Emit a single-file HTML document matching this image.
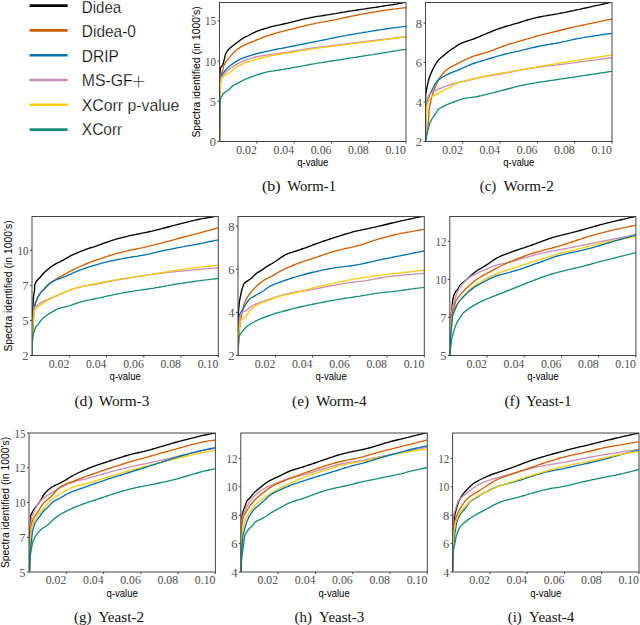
<!DOCTYPE html><html><head><meta charset="utf-8"><style>html,body{margin:0;padding:0;background:#fff;width:640px;height:625px;overflow:hidden}svg{display:block}</style></head><body>
<svg width="640" height="625" viewBox="0 0 640 625">
<rect width="640" height="625" fill="#fff"/>
<line x1="133" y1="81.5" x2="144.3" y2="81.5" stroke="#666" stroke-width="1"/><line x1="138.6" y1="75.8" x2="138.6" y2="87.3" stroke="#666" stroke-width="1"/>
<line x1="29.6" y1="5.6" x2="67.6" y2="5.6" stroke="#000000" stroke-width="2.6"/>
<text x="81.8" y="12.5" font-family="Liberation Sans" font-size="17" fill="#000" stroke="#fff" stroke-width="0.25" textLength="39.4" lengthAdjust="spacingAndGlyphs">Didea</text>
<line x1="29.6" y1="30.4" x2="67.6" y2="30.4" stroke="#d55e00" stroke-width="2.6"/>
<text x="81.8" y="36.9" font-family="Liberation Sans" font-size="17" fill="#000" stroke="#fff" stroke-width="0.25" textLength="54.1" lengthAdjust="spacingAndGlyphs">Didea-0</text>
<line x1="29.6" y1="55.2" x2="67.6" y2="55.2" stroke="#0072b2" stroke-width="2.6"/>
<text x="81.8" y="61.6" font-family="Liberation Sans" font-size="17" fill="#000" stroke="#fff" stroke-width="0.25" textLength="37.1" lengthAdjust="spacingAndGlyphs">DRIP</text>
<line x1="29.6" y1="80.0" x2="67.6" y2="80.0" stroke="#c98db3" stroke-width="2.6"/>
<text x="81.8" y="86.2" font-family="Liberation Sans" font-size="17" fill="#000" stroke="#fff" stroke-width="0.25" textLength="51.0" lengthAdjust="spacingAndGlyphs">MS-GF</text>
<line x1="29.6" y1="104.8" x2="67.6" y2="104.8" stroke="#f8cc0a" stroke-width="2.6"/>
<text x="81.8" y="110.8" font-family="Liberation Sans" font-size="17" fill="#000" stroke="#fff" stroke-width="0.25" textLength="97.5" lengthAdjust="spacingAndGlyphs">XCorr p-value</text>
<line x1="29.6" y1="129.6" x2="67.6" y2="129.6" stroke="#13907a" stroke-width="2.6"/>
<text x="81.8" y="135.4" font-family="Liberation Sans" font-size="17" fill="#000" stroke="#fff" stroke-width="0.25" textLength="40.5" lengthAdjust="spacingAndGlyphs">XCorr</text>
<clipPath id="clb"><rect x="219.5" y="2.5" width="186.5" height="139.0"/></clipPath>
<polyline clip-path="url(#clb)" points="219.5,141.4 219.6,76.0 219.8,76.0 220.4,68.0 222.8,64.8 223.5,62.4 225.5,54.1 227.5,50.5 229.5,48.5 231.5,46.8 233.5,45.2 235.5,43.7 237.5,42.2 239.5,40.7 241.5,39.2 243.5,37.9 245.5,36.9 247.5,36.0 249.5,35.0 251.5,33.9 253.5,32.8 255.5,31.9 257.5,31.0 259.5,30.3 261.5,29.6 263.5,29.0 265.5,28.3 267.5,27.8 269.5,27.2 271.5,26.6 273.5,26.2 275.5,25.7 277.5,25.3 279.5,24.9 281.5,24.4 283.5,24.0 285.5,23.5 287.5,23.1 289.5,22.6 291.5,22.1 293.5,21.6 295.5,21.1 297.5,20.6 299.5,20.1 301.5,19.6 303.5,19.2 305.5,18.7 307.5,18.3 309.5,17.9 311.5,17.5 313.5,17.1 315.5,16.7 317.5,16.4 319.5,16.1 321.5,15.8 323.5,15.5 325.5,15.2 327.5,14.9 329.5,14.6 331.5,14.2 333.5,13.9 335.5,13.6 337.5,13.2 339.5,12.9 341.5,12.5 343.5,12.2 345.5,11.8 347.5,11.5 349.5,11.2 351.5,10.9 353.5,10.6 355.5,10.3 357.5,10.0 359.5,9.7 361.5,9.4 363.5,9.1 365.5,8.8 367.5,8.5 369.5,8.2 371.5,7.9 373.5,7.6 375.5,7.3 377.5,7.0 379.5,6.7 381.5,6.4 383.5,6.0 385.5,5.7 387.5,5.4 389.5,5.1 391.5,4.8 393.5,4.5 395.5,4.1 397.5,3.8 399.5,3.4 401.5,3.1 403.5,2.7 405.5,2.3 406.0,2.2" fill="none" stroke="#000000" stroke-width="1.35" stroke-linejoin="round"/>
<polyline clip-path="url(#clb)" points="219.5,141.4 219.9,90.0 220.4,77.6 221.6,73.6 222.8,70.4 223.5,66.7 225.5,62.3 227.5,59.9 229.5,57.4 231.5,55.1 233.5,52.7 235.5,50.8 237.5,49.3 239.5,47.9 241.5,46.7 243.5,45.7 245.5,44.7 247.5,43.7 249.5,42.8 251.5,42.0 253.5,41.3 255.5,40.5 257.5,39.7 259.5,38.9 261.5,38.0 263.5,37.2 265.5,36.5 267.5,35.8 269.5,35.1 271.5,34.5 273.5,33.9 275.5,33.3 277.5,32.7 279.5,32.2 281.5,31.7 283.5,31.1 285.5,30.6 287.5,30.1 289.5,29.6 291.5,29.1 293.5,28.6 295.5,28.1 297.5,27.6 299.5,27.1 301.5,26.6 303.5,26.1 305.5,25.6 307.5,25.1 309.5,24.7 311.5,24.2 313.5,23.8 315.5,23.3 317.5,22.9 319.5,22.6 321.5,22.2 323.5,21.9 325.5,21.5 327.5,21.2 329.5,20.8 331.5,20.5 333.5,20.1 335.5,19.7 337.5,19.2 339.5,18.8 341.5,18.3 343.5,17.9 345.5,17.5 347.5,17.0 349.5,16.6 351.5,16.2 353.5,15.8 355.5,15.4 357.5,15.0 359.5,14.6 361.5,14.2 363.5,13.8 365.5,13.5 367.5,13.1 369.5,12.7 371.5,12.4 373.5,12.1 375.5,11.8 377.5,11.5 379.5,11.1 381.5,10.8 383.5,10.5 385.5,10.2 387.5,10.0 389.5,9.7 391.5,9.4 393.5,9.1 395.5,8.9 397.5,8.6 399.5,8.4 401.5,8.1 403.5,7.9 405.5,7.7 406.0,7.6" fill="none" stroke="#d55e00" stroke-width="1.35" stroke-linejoin="round"/>
<polyline clip-path="url(#clb)" points="219.5,141.4 219.9,90.0 220.5,77.0 221.2,75.9 221.2,75.9 222.8,73.6 223.5,72.7 225.5,70.1 227.5,68.1 229.5,66.3 231.5,64.7 233.5,63.3 235.5,61.9 237.5,60.7 239.5,59.7 241.5,58.7 243.5,57.9 245.5,57.2 247.5,56.5 249.5,55.8 251.5,55.2 253.5,54.6 255.5,54.0 257.5,53.4 259.5,53.0 261.5,52.5 263.5,52.1 265.5,51.7 267.5,51.2 269.5,50.8 271.5,50.3 273.5,49.9 275.5,49.5 277.5,49.1 279.5,48.7 281.5,48.4 283.5,48.0 285.5,47.6 287.5,47.2 289.5,46.8 291.5,46.4 293.5,46.0 295.5,45.6 297.5,45.2 299.5,44.8 301.5,44.4 303.5,44.0 305.5,43.6 307.5,43.2 309.5,42.8 311.5,42.4 313.5,42.0 315.5,41.6 317.5,41.2 319.5,40.8 321.5,40.4 323.5,40.0 325.5,39.6 327.5,39.2 329.5,38.7 331.5,38.3 333.5,37.9 335.5,37.5 337.5,37.1 339.5,36.7 341.5,36.3 343.5,35.9 345.5,35.6 347.5,35.2 349.5,34.8 351.5,34.5 353.5,34.1 355.5,33.8 357.5,33.4 359.5,33.1 361.5,32.8 363.5,32.4 365.5,32.1 367.5,31.8 369.5,31.4 371.5,31.1 373.5,30.8 375.5,30.5 377.5,30.2 379.5,29.9 381.5,29.6 383.5,29.3 385.5,29.0 387.5,28.7 389.5,28.5 391.5,28.2 393.5,27.9 395.5,27.7 397.5,27.4 399.5,27.1 401.5,26.9 403.5,26.6 405.5,26.3 406.0,26.3" fill="none" stroke="#0072b2" stroke-width="1.35" stroke-linejoin="round"/>
<polyline clip-path="url(#clb)" points="219.5,141.4 219.9,92.0 220.5,80.0 221.2,77.1 222.0,77.1 223.5,74.9 225.5,72.5 227.5,70.6 229.5,69.1 231.5,67.8 233.5,66.5 235.5,65.1 237.5,63.9 239.5,62.9 241.5,61.9 243.5,61.0 245.5,60.2 247.5,59.4 249.5,58.8 251.5,58.1 253.5,57.6 255.5,57.0 257.5,56.6 259.5,56.2 261.5,55.8 263.5,55.5 265.5,55.2 267.5,54.9 269.5,54.6 271.5,54.3 273.5,54.1 275.5,53.8 277.5,53.6 279.5,53.3 281.5,53.0 283.5,52.8 285.5,52.5 287.5,52.1 289.5,51.8 291.5,51.5 293.5,51.1 295.5,50.8 297.5,50.5 299.5,50.1 301.5,49.8 303.5,49.5 305.5,49.1 307.5,48.8 309.5,48.5 311.5,48.2 313.5,47.9 315.5,47.6 317.5,47.4 319.5,47.1 321.5,46.8 323.5,46.6 325.5,46.3 327.5,46.1 329.5,45.8 331.5,45.6 333.5,45.3 335.5,45.1 337.5,44.8 339.5,44.6 341.5,44.3 343.5,44.1 345.5,43.8 347.5,43.6 349.5,43.3 351.5,43.1 353.5,42.9 355.5,42.6 357.5,42.4 359.5,42.2 361.5,41.9 363.5,41.7 365.5,41.4 367.5,41.2 369.5,41.0 371.5,40.7 373.5,40.5 375.5,40.3 377.5,40.0 379.5,39.8 381.5,39.5 383.5,39.3 385.5,39.1 387.5,38.8 389.5,38.6 391.5,38.4 393.5,38.1 395.5,37.9 397.5,37.6 399.5,37.4 401.5,37.2 403.5,36.9 405.5,36.7 406.0,36.6" fill="none" stroke="#c98db3" stroke-width="1.35" stroke-linejoin="round"/>
<polyline clip-path="url(#clb)" points="219.5,141.4 219.9,95.0 220.0,90.0 220.8,83.2 222.0,78.4 223.5,76.4 225.5,74.8 227.5,74.0 229.5,72.8 231.5,71.2 233.5,69.4 235.5,67.8 237.5,66.5 239.5,65.3 241.5,64.3 243.5,63.4 245.5,62.6 247.5,62.0 249.5,61.4 251.5,60.8 253.5,60.2 255.5,59.6 257.5,59.0 259.5,58.5 261.5,58.0 263.5,57.5 265.5,57.0 267.5,56.6 269.5,56.1 271.5,55.7 273.5,55.3 275.5,55.0 277.5,54.6 279.5,54.3 281.5,54.0 283.5,53.6 285.5,53.3 287.5,53.0 289.5,52.6 291.5,52.3 293.5,52.0 295.5,51.6 297.5,51.3 299.5,50.9 301.5,50.6 303.5,50.3 305.5,50.0 307.5,49.6 309.5,49.3 311.5,49.0 313.5,48.7 315.5,48.4 317.5,48.2 319.5,47.9 321.5,47.6 323.5,47.4 325.5,47.1 327.5,46.9 329.5,46.6 331.5,46.4 333.5,46.1 335.5,45.9 337.5,45.6 339.5,45.4 341.5,45.1 343.5,44.9 345.5,44.6 347.5,44.4 349.5,44.1 351.5,43.9 353.5,43.6 355.5,43.4 357.5,43.1 359.5,42.9 361.5,42.6 363.5,42.4 365.5,42.1 367.5,41.9 369.5,41.6 371.5,41.4 373.5,41.1 375.5,40.9 377.5,40.6 379.5,40.3 381.5,40.1 383.5,39.8 385.5,39.6 387.5,39.3 389.5,39.0 391.5,38.8 393.5,38.5 395.5,38.2 397.5,38.0 399.5,37.7 401.5,37.4 403.5,37.2 405.5,36.9 406.0,36.8" fill="none" stroke="#f8cc0a" stroke-width="1.35" stroke-linejoin="round"/>
<polyline clip-path="url(#clb)" points="219.4,141.4 219.9,114.4 220.1,100.8 220.8,98.1 222.2,95.6 223.5,93.4 225.5,92.0 227.5,90.7 229.5,89.3 231.5,86.9 233.5,85.5 235.5,84.4 237.5,83.3 239.5,82.1 241.5,81.1 243.5,80.1 245.5,79.2 247.5,78.4 249.5,77.6 251.5,76.8 253.5,76.1 255.5,75.4 257.5,74.6 259.5,74.0 261.5,73.4 263.5,72.8 265.5,72.3 267.5,71.8 269.5,71.4 271.5,71.1 273.5,70.8 275.5,70.5 277.5,70.3 279.5,70.0 281.5,69.7 283.5,69.4 285.5,69.0 287.5,68.7 289.5,68.3 291.5,67.9 293.5,67.5 295.5,67.2 297.5,66.8 299.5,66.4 301.5,66.1 303.5,65.7 305.5,65.3 307.5,65.0 309.5,64.6 311.5,64.2 313.5,63.9 315.5,63.6 317.5,63.2 319.5,62.9 321.5,62.6 323.5,62.3 325.5,62.0 327.5,61.6 329.5,61.3 331.5,61.0 333.5,60.7 335.5,60.4 337.5,60.1 339.5,59.8 341.5,59.5 343.5,59.1 345.5,58.8 347.5,58.5 349.5,58.2 351.5,57.9 353.5,57.6 355.5,57.3 357.5,57.0 359.5,56.6 361.5,56.3 363.5,56.0 365.5,55.7 367.5,55.4 369.5,55.1 371.5,54.8 373.5,54.4 375.5,54.1 377.5,53.8 379.5,53.5 381.5,53.2 383.5,52.8 385.5,52.5 387.5,52.2 389.5,51.9 391.5,51.5 393.5,51.2 395.5,50.9 397.5,50.6 399.5,50.2 401.5,49.9 403.5,49.6 405.5,49.3 406.0,49.2" fill="none" stroke="#13907a" stroke-width="1.35" stroke-linejoin="round"/>
<rect x="219.5" y="2.5" width="186.5" height="139.0" fill="none" stroke="#444" stroke-width="1"/>
<line x1="217.5" y1="141.5" x2="219.5" y2="141.5" stroke="#444" stroke-width="1"/>
<text x="216.1" y="146.0" text-anchor="end" font-family="Liberation Serif" font-size="12.5" fill="#111" stroke="#fff" stroke-width="0.2">0</text>
<line x1="217.5" y1="101.27" x2="219.5" y2="101.27" stroke="#444" stroke-width="1"/>
<text x="216.1" y="105.77" text-anchor="end" font-family="Liberation Serif" font-size="12.5" fill="#111" stroke="#fff" stroke-width="0.2">5</text>
<line x1="217.5" y1="61.03" x2="219.5" y2="61.03" stroke="#444" stroke-width="1"/>
<text x="216.1" y="65.53" text-anchor="end" font-family="Liberation Serif" font-size="12.5" fill="#111" stroke="#fff" stroke-width="0.2" textLength="11" lengthAdjust="spacingAndGlyphs">10</text>
<line x1="217.5" y1="20.8" x2="219.5" y2="20.8" stroke="#444" stroke-width="1"/>
<text x="216.1" y="25.3" text-anchor="end" font-family="Liberation Serif" font-size="12.5" fill="#111" stroke="#fff" stroke-width="0.2" textLength="11" lengthAdjust="spacingAndGlyphs">15</text>
<line x1="256.8" y1="141.5" x2="256.8" y2="143.5" stroke="#444" stroke-width="1"/>
<text x="256.8" y="153.6" text-anchor="end" font-family="Liberation Serif" font-size="12.5" fill="#111" stroke="#fff" stroke-width="0.2" textLength="20.6" lengthAdjust="spacingAndGlyphs">0.02</text>
<line x1="294.1" y1="141.5" x2="294.1" y2="143.5" stroke="#444" stroke-width="1"/>
<text x="294.1" y="153.6" text-anchor="end" font-family="Liberation Serif" font-size="12.5" fill="#111" stroke="#fff" stroke-width="0.2" textLength="20.6" lengthAdjust="spacingAndGlyphs">0.04</text>
<line x1="331.4" y1="141.5" x2="331.4" y2="143.5" stroke="#444" stroke-width="1"/>
<text x="331.4" y="153.6" text-anchor="end" font-family="Liberation Serif" font-size="12.5" fill="#111" stroke="#fff" stroke-width="0.2" textLength="20.6" lengthAdjust="spacingAndGlyphs">0.06</text>
<line x1="368.7" y1="141.5" x2="368.7" y2="143.5" stroke="#444" stroke-width="1"/>
<text x="368.7" y="153.6" text-anchor="end" font-family="Liberation Serif" font-size="12.5" fill="#111" stroke="#fff" stroke-width="0.2" textLength="20.6" lengthAdjust="spacingAndGlyphs">0.08</text>
<line x1="406.0" y1="141.5" x2="406.0" y2="143.5" stroke="#444" stroke-width="1"/>
<text x="406.0" y="153.6" text-anchor="end" font-family="Liberation Serif" font-size="12.5" fill="#111" stroke="#fff" stroke-width="0.2" textLength="20.6" lengthAdjust="spacingAndGlyphs">0.10</text>
<text x="312.8" y="166.0" text-anchor="middle" font-family="Liberation Sans" font-size="10" fill="#000" textLength="31.2" lengthAdjust="spacingAndGlyphs">q-value</text>
<text transform="translate(199.9,72.0) rotate(-90)" text-anchor="middle" font-family="Liberation Sans" font-size="10" fill="#000" textLength="131.2" lengthAdjust="spacingAndGlyphs">Spectra identified (in 1000's)</text>
<text x="262.0" y="190.8" font-family="Liberation Serif" font-size="15" fill="#111" textLength="18.6" lengthAdjust="spacingAndGlyphs">(b)</text>
<text x="287.3" y="190.8" font-family="Liberation Serif" font-size="15" fill="#111" textLength="48.7" lengthAdjust="spacingAndGlyphs">Worm-1</text>
<clipPath id="clc"><rect x="425.5" y="2.5" width="186.5" height="139.0"/></clipPath>
<polyline clip-path="url(#clc)" points="425.3,140.8 425.7,94.0 425.8,94.0 426.8,88.2 428.5,80.3 429.5,77.3 431.5,72.1 433.5,68.0 435.5,64.3 437.5,61.2 439.5,58.9 441.5,57.2 443.5,55.6 445.5,54.0 447.5,52.3 449.5,50.7 451.5,49.3 453.5,48.1 455.5,46.7 457.5,45.4 459.5,44.2 461.5,43.2 463.5,42.4 465.5,41.7 467.5,41.0 469.5,40.4 471.5,39.7 473.5,39.0 475.5,38.2 477.5,37.4 479.5,36.6 481.5,35.7 483.5,34.9 485.5,34.0 487.5,33.1 489.5,32.3 491.5,31.5 493.5,30.7 495.5,29.9 497.5,29.2 499.5,28.5 501.5,27.8 503.5,27.1 505.5,26.5 507.5,25.9 509.5,25.4 511.5,24.8 513.5,24.2 515.5,23.6 517.5,23.1 519.5,22.5 521.5,21.8 523.5,21.2 525.5,20.6 527.5,20.0 529.5,19.4 531.5,18.9 533.5,18.4 535.5,17.9 537.5,17.4 539.5,17.0 541.5,16.6 543.5,16.2 545.5,15.9 547.5,15.5 549.5,15.1 551.5,14.8 553.5,14.5 555.5,14.1 557.5,13.8 559.5,13.4 561.5,13.0 563.5,12.7 565.5,12.3 567.5,11.8 569.5,11.4 571.5,11.0 573.5,10.6 575.5,10.1 577.5,9.7 579.5,9.3 581.5,8.8 583.5,8.4 585.5,8.0 587.5,7.5 589.5,7.1 591.5,6.6 593.5,6.2 595.5,5.7 597.5,5.3 599.5,4.9 601.5,4.4 603.5,4.0 605.5,3.6 607.5,3.1 609.5,2.7 611.5,2.2 612.0,2.1" fill="none" stroke="#000000" stroke-width="1.35" stroke-linejoin="round"/>
<polyline clip-path="url(#clc)" points="425.3,140.8 425.8,137.9 427.7,128.3 428.7,118.7 429.0,110.0 429.5,107.0 431.5,97.9 433.5,91.5 435.5,86.7 437.5,81.9 439.5,78.1 441.5,75.4 443.5,73.0 445.5,70.8 447.5,69.2 449.5,67.9 451.5,66.7 453.5,65.6 455.5,64.6 457.5,63.6 459.5,62.6 461.5,61.6 463.5,60.6 465.5,59.6 467.5,58.7 469.5,57.8 471.5,57.0 473.5,56.2 475.5,55.6 477.5,55.0 479.5,54.5 481.5,53.9 483.5,53.3 485.5,52.7 487.5,52.1 489.5,51.4 491.5,50.7 493.5,50.0 495.5,49.2 497.5,48.4 499.5,47.6 501.5,46.8 503.5,46.0 505.5,45.3 507.5,44.7 509.5,44.0 511.5,43.4 513.5,42.9 515.5,42.3 517.5,41.7 519.5,41.2 521.5,40.6 523.5,40.0 525.5,39.4 527.5,38.9 529.5,38.3 531.5,37.7 533.5,37.1 535.5,36.5 537.5,35.9 539.5,35.4 541.5,34.8 543.5,34.3 545.5,33.8 547.5,33.3 549.5,32.9 551.5,32.4 553.5,32.0 555.5,31.5 557.5,31.0 559.5,30.5 561.5,30.0 563.5,29.5 565.5,29.0 567.5,28.5 569.5,28.0 571.5,27.5 573.5,27.1 575.5,26.6 577.5,26.2 579.5,25.8 581.5,25.4 583.5,25.0 585.5,24.6 587.5,24.1 589.5,23.7 591.5,23.3 593.5,22.9 595.5,22.5 597.5,22.1 599.5,21.6 601.5,21.2 603.5,20.8 605.5,20.4 607.5,19.9 609.5,19.5 611.5,19.1 612.0,19.0" fill="none" stroke="#d55e00" stroke-width="1.35" stroke-linejoin="round"/>
<polyline clip-path="url(#clc)" points="425.3,140.8 426.2,103.5 426.2,103.5 429.5,95.1 431.5,91.1 433.5,87.1 435.5,83.2 437.5,80.6 439.5,79.1 441.5,77.7 443.5,76.5 445.5,75.3 447.5,74.3 449.5,73.5 451.5,72.7 453.5,71.9 455.5,71.1 457.5,70.3 459.5,69.5 461.5,68.6 463.5,67.7 465.5,66.8 467.5,65.9 469.5,65.0 471.5,64.2 473.5,63.5 475.5,62.8 477.5,62.2 479.5,61.6 481.5,61.0 483.5,60.4 485.5,59.8 487.5,59.2 489.5,58.6 491.5,58.0 493.5,57.4 495.5,56.8 497.5,56.2 499.5,55.6 501.5,55.1 503.5,54.5 505.5,54.0 507.5,53.6 509.5,53.1 511.5,52.6 513.5,52.2 515.5,51.7 517.5,51.3 519.5,50.8 521.5,50.4 523.5,49.9 525.5,49.4 527.5,48.9 529.5,48.4 531.5,47.9 533.5,47.5 535.5,47.0 537.5,46.5 539.5,46.1 541.5,45.7 543.5,45.3 545.5,45.0 547.5,44.6 549.5,44.3 551.5,44.0 553.5,43.7 555.5,43.4 557.5,43.0 559.5,42.6 561.5,42.2 563.5,41.7 565.5,41.3 567.5,40.8 569.5,40.3 571.5,39.9 573.5,39.4 575.5,39.0 577.5,38.6 579.5,38.3 581.5,37.9 583.5,37.6 585.5,37.2 587.5,36.9 589.5,36.6 591.5,36.3 593.5,36.0 595.5,35.7 597.5,35.4 599.5,35.1 601.5,34.8 603.5,34.5 605.5,34.2 607.5,34.0 609.5,33.7 611.5,33.4 612.0,33.3" fill="none" stroke="#0072b2" stroke-width="1.35" stroke-linejoin="round"/>
<polyline clip-path="url(#clc)" points="425.3,140.8 425.8,109.0 426.2,99.3 427.2,99.3 429.5,94.0 431.5,92.5 433.5,91.3 435.5,90.3 437.5,89.4 439.5,88.6 441.5,87.9 443.5,87.1 445.5,86.3 447.5,85.6 449.5,85.0 451.5,84.4 453.5,83.8 455.5,83.2 457.5,82.7 459.5,82.2 461.5,81.8 463.5,81.4 465.5,81.0 467.5,80.5 469.5,80.0 471.5,79.5 473.5,79.0 475.5,78.5 477.5,78.1 479.5,77.7 481.5,77.3 483.5,76.9 485.5,76.5 487.5,76.2 489.5,75.9 491.5,75.6 493.5,75.2 495.5,74.9 497.5,74.6 499.5,74.2 501.5,73.8 503.5,73.4 505.5,73.1 507.5,72.7 509.5,72.3 511.5,71.9 513.5,71.5 515.5,71.1 517.5,70.7 519.5,70.3 521.5,69.9 523.5,69.6 525.5,69.2 527.5,68.9 529.5,68.5 531.5,68.2 533.5,67.9 535.5,67.6 537.5,67.3 539.5,67.0 541.5,66.7 543.5,66.5 545.5,66.2 547.5,66.0 549.5,65.7 551.5,65.5 553.5,65.3 555.5,65.1 557.5,64.8 559.5,64.6 561.5,64.4 563.5,64.2 565.5,63.9 567.5,63.7 569.5,63.4 571.5,63.2 573.5,62.9 575.5,62.6 577.5,62.3 579.5,62.0 581.5,61.7 583.5,61.4 585.5,61.1 587.5,60.9 589.5,60.6 591.5,60.3 593.5,60.1 595.5,59.8 597.5,59.6 599.5,59.3 601.5,59.0 603.5,58.8 605.5,58.5 607.5,58.3 609.5,58.0 611.5,57.8 612.0,57.7" fill="none" stroke="#c98db3" stroke-width="1.35" stroke-linejoin="round"/>
<polyline clip-path="url(#clc)" points="425.3,140.8 425.8,121.5 426.7,111.9 426.8,107.2 428.5,100.5 429.5,98.9 431.5,96.7 433.5,95.7 435.5,94.7 437.5,93.7 439.5,92.6 441.5,91.4 443.5,90.3 445.5,89.4 447.5,88.6 449.5,87.7 451.5,86.6 453.5,85.2 455.5,83.9 457.5,83.0 459.5,82.3 461.5,81.8 463.5,81.3 465.5,80.7 467.5,80.2 469.5,79.7 471.5,79.3 473.5,78.8 475.5,78.4 477.5,78.0 479.5,77.5 481.5,77.0 483.5,76.5 485.5,76.0 487.5,75.6 489.5,75.2 491.5,74.8 493.5,74.4 495.5,74.1 497.5,73.8 499.5,73.5 501.5,73.2 503.5,72.9 505.5,72.6 507.5,72.2 509.5,71.9 511.5,71.6 513.5,71.2 515.5,70.9 517.5,70.5 519.5,70.2 521.5,69.8 523.5,69.4 525.5,69.1 527.5,68.7 529.5,68.4 531.5,68.0 533.5,67.6 535.5,67.3 537.5,66.9 539.5,66.6 541.5,66.2 543.5,65.9 545.5,65.5 547.5,65.2 549.5,64.8 551.5,64.5 553.5,64.1 555.5,63.8 557.5,63.4 559.5,63.1 561.5,62.8 563.5,62.5 565.5,62.1 567.5,61.8 569.5,61.5 571.5,61.2 573.5,60.9 575.5,60.6 577.5,60.3 579.5,60.0 581.5,59.7 583.5,59.4 585.5,59.1 587.5,58.8 589.5,58.5 591.5,58.2 593.5,57.8 595.5,57.5 597.5,57.2 599.5,56.9 601.5,56.6 603.5,56.3 605.5,56.0 607.5,55.7 609.5,55.4 611.5,55.1 612.0,55.0" fill="none" stroke="#f8cc0a" stroke-width="1.35" stroke-linejoin="round"/>
<polyline clip-path="url(#clc)" points="424.8,140.8 425.8,140.8 427.7,131.2 429.5,123.9 431.5,119.7 433.5,116.5 435.5,113.9 437.5,110.5 439.5,108.5 441.5,107.3 443.5,106.3 445.5,105.3 447.5,104.4 449.5,103.6 451.5,102.8 453.5,102.0 455.5,101.3 457.5,100.6 459.5,99.9 461.5,99.3 463.5,98.7 465.5,98.3 467.5,97.9 469.5,97.7 471.5,97.4 473.5,97.1 475.5,96.8 477.5,96.5 479.5,96.0 481.5,95.6 483.5,95.1 485.5,94.6 487.5,94.1 489.5,93.6 491.5,93.1 493.5,92.6 495.5,92.1 497.5,91.6 499.5,91.1 501.5,90.6 503.5,90.0 505.5,89.5 507.5,89.0 509.5,88.5 511.5,88.0 513.5,87.4 515.5,86.9 517.5,86.4 519.5,85.9 521.5,85.4 523.5,85.0 525.5,84.6 527.5,84.2 529.5,83.8 531.5,83.5 533.5,83.2 535.5,82.8 537.5,82.5 539.5,82.2 541.5,81.9 543.5,81.6 545.5,81.3 547.5,81.0 549.5,80.7 551.5,80.4 553.5,80.1 555.5,79.8 557.5,79.5 559.5,79.2 561.5,78.9 563.5,78.6 565.5,78.3 567.5,78.0 569.5,77.7 571.5,77.4 573.5,77.1 575.5,76.8 577.5,76.5 579.5,76.2 581.5,75.9 583.5,75.6 585.5,75.3 587.5,75.0 589.5,74.7 591.5,74.4 593.5,74.1 595.5,73.8 597.5,73.5 599.5,73.2 601.5,72.9 603.5,72.6 605.5,72.3 607.5,72.0 609.5,71.7 611.5,71.4 612.0,71.3" fill="none" stroke="#13907a" stroke-width="1.35" stroke-linejoin="round"/>
<rect x="425.5" y="2.5" width="186.5" height="139.0" fill="none" stroke="#444" stroke-width="1"/>
<line x1="423.5" y1="141.5" x2="425.5" y2="141.5" stroke="#444" stroke-width="1"/>
<text x="422.1" y="146.0" text-anchor="end" font-family="Liberation Serif" font-size="12.5" fill="#111" stroke="#fff" stroke-width="0.2">2</text>
<line x1="423.5" y1="102.0" x2="425.5" y2="102.0" stroke="#444" stroke-width="1"/>
<text x="422.1" y="106.5" text-anchor="end" font-family="Liberation Serif" font-size="12.5" fill="#111" stroke="#fff" stroke-width="0.2">4</text>
<line x1="423.5" y1="62.5" x2="425.5" y2="62.5" stroke="#444" stroke-width="1"/>
<text x="422.1" y="67.0" text-anchor="end" font-family="Liberation Serif" font-size="12.5" fill="#111" stroke="#fff" stroke-width="0.2">6</text>
<line x1="423.5" y1="23.0" x2="425.5" y2="23.0" stroke="#444" stroke-width="1"/>
<text x="422.1" y="27.5" text-anchor="end" font-family="Liberation Serif" font-size="12.5" fill="#111" stroke="#fff" stroke-width="0.2">8</text>
<line x1="462.8" y1="141.5" x2="462.8" y2="143.5" stroke="#444" stroke-width="1"/>
<text x="462.8" y="153.6" text-anchor="end" font-family="Liberation Serif" font-size="12.5" fill="#111" stroke="#fff" stroke-width="0.2" textLength="20.6" lengthAdjust="spacingAndGlyphs">0.02</text>
<line x1="500.1" y1="141.5" x2="500.1" y2="143.5" stroke="#444" stroke-width="1"/>
<text x="500.1" y="153.6" text-anchor="end" font-family="Liberation Serif" font-size="12.5" fill="#111" stroke="#fff" stroke-width="0.2" textLength="20.6" lengthAdjust="spacingAndGlyphs">0.04</text>
<line x1="537.4" y1="141.5" x2="537.4" y2="143.5" stroke="#444" stroke-width="1"/>
<text x="537.4" y="153.6" text-anchor="end" font-family="Liberation Serif" font-size="12.5" fill="#111" stroke="#fff" stroke-width="0.2" textLength="20.6" lengthAdjust="spacingAndGlyphs">0.06</text>
<line x1="574.7" y1="141.5" x2="574.7" y2="143.5" stroke="#444" stroke-width="1"/>
<text x="574.7" y="153.6" text-anchor="end" font-family="Liberation Serif" font-size="12.5" fill="#111" stroke="#fff" stroke-width="0.2" textLength="20.6" lengthAdjust="spacingAndGlyphs">0.08</text>
<line x1="612.0" y1="141.5" x2="612.0" y2="143.5" stroke="#444" stroke-width="1"/>
<text x="612.0" y="153.6" text-anchor="end" font-family="Liberation Serif" font-size="12.5" fill="#111" stroke="#fff" stroke-width="0.2" textLength="20.6" lengthAdjust="spacingAndGlyphs">0.10</text>
<text x="518.8" y="166.0" text-anchor="middle" font-family="Liberation Sans" font-size="10" fill="#000" textLength="31.2" lengthAdjust="spacingAndGlyphs">q-value</text>
<text x="479.7" y="190.5" font-family="Liberation Serif" font-size="15" fill="#111" textLength="16.5" lengthAdjust="spacingAndGlyphs">(c)</text>
<text x="503.5" y="190.5" font-family="Liberation Serif" font-size="15" fill="#111" textLength="50.3" lengthAdjust="spacingAndGlyphs">Worm-2</text>
<clipPath id="cld"><rect x="32.0" y="216.5" width="186.3" height="139.0"/></clipPath>
<polyline clip-path="url(#cld)" points="31.6,354.8 31.8,354.8 32.7,318.0 32.9,306.8 33.5,296.7 34.6,290.0 34.6,285.4 36.0,281.7 38.0,279.5 40.0,277.5 42.0,275.0 44.0,272.8 46.0,271.0 48.0,269.3 50.0,267.6 52.0,266.1 54.0,264.9 56.0,263.7 58.0,262.7 60.0,261.8 62.0,260.7 64.0,259.6 66.0,258.4 68.0,257.3 70.0,256.2 72.0,255.2 74.0,254.2 76.0,253.3 78.0,252.5 80.0,251.6 82.0,250.8 84.0,250.1 86.0,249.4 88.0,248.7 90.0,248.0 92.0,247.4 94.0,246.8 96.0,246.1 98.0,245.4 100.0,244.7 102.0,244.0 104.0,243.2 106.0,242.5 108.0,241.8 110.0,241.1 112.0,240.4 114.0,239.8 116.0,239.2 118.0,238.6 120.0,238.1 122.0,237.6 124.0,237.1 126.0,236.6 128.0,236.2 130.0,235.7 132.0,235.2 134.0,234.8 136.0,234.4 138.0,234.0 140.0,233.6 142.0,233.2 144.0,232.8 146.0,232.4 148.0,232.0 150.0,231.5 152.0,231.1 154.0,230.6 156.0,230.1 158.0,229.6 160.0,229.1 162.0,228.6 164.0,228.0 166.0,227.5 168.0,227.0 170.0,226.5 172.0,225.9 174.0,225.4 176.0,224.9 178.0,224.3 180.0,223.8 182.0,223.3 184.0,222.8 186.0,222.3 188.0,221.8 190.0,221.3 192.0,220.8 194.0,220.4 196.0,219.9 198.0,219.5 200.0,219.1 202.0,218.7 204.0,218.3 206.0,218.0 208.0,217.6 210.0,217.3 212.0,217.0 214.0,216.7 216.0,216.4 218.0,216.1 218.0,216.1" fill="none" stroke="#000000" stroke-width="1.35" stroke-linejoin="round"/>
<polyline clip-path="url(#cld)" points="31.6,354.8 31.8,354.8 33.5,318.0 34.0,307.9 35.7,302.3 36.0,301.6 38.0,296.8 40.0,293.7 42.0,291.2 44.0,289.5 46.0,287.5 48.0,285.4 50.0,283.5 52.0,281.8 54.0,280.5 56.0,279.3 58.0,278.1 60.0,276.9 62.0,275.8 64.0,274.6 66.0,273.5 68.0,272.4 70.0,271.4 72.0,270.3 74.0,269.3 76.0,268.4 78.0,267.5 80.0,266.6 82.0,265.7 84.0,264.8 86.0,264.0 88.0,263.2 90.0,262.4 92.0,261.7 94.0,261.0 96.0,260.2 98.0,259.5 100.0,258.8 102.0,258.2 104.0,257.5 106.0,256.8 108.0,256.2 110.0,255.5 112.0,254.9 114.0,254.3 116.0,253.7 118.0,253.1 120.0,252.6 122.0,252.1 124.0,251.6 126.0,251.1 128.0,250.6 130.0,250.2 132.0,249.8 134.0,249.4 136.0,249.0 138.0,248.6 140.0,248.2 142.0,247.8 144.0,247.3 146.0,246.9 148.0,246.4 150.0,245.9 152.0,245.4 154.0,244.9 156.0,244.4 158.0,243.9 160.0,243.4 162.0,242.9 164.0,242.4 166.0,241.9 168.0,241.4 170.0,240.8 172.0,240.3 174.0,239.7 176.0,239.2 178.0,238.6 180.0,238.0 182.0,237.5 184.0,236.9 186.0,236.4 188.0,235.9 190.0,235.3 192.0,234.8 194.0,234.3 196.0,233.8 198.0,233.3 200.0,232.8 202.0,232.3 204.0,231.7 206.0,231.2 208.0,230.7 210.0,230.1 212.0,229.5 214.0,229.0 216.0,228.4 218.0,227.8 218.0,227.8" fill="none" stroke="#d55e00" stroke-width="1.35" stroke-linejoin="round"/>
<polyline clip-path="url(#cld)" points="31.6,354.8 31.8,354.8 33.5,318.0 34.0,307.9 35.7,302.3 36.0,301.6 38.0,296.8 40.0,293.7 42.0,291.2 44.0,289.2 46.0,286.6 48.0,284.8 50.0,283.2 52.0,281.9 54.0,280.8 56.0,279.9 58.0,279.2 60.0,278.5 62.0,277.8 64.0,276.9 66.0,276.1 68.0,275.2 70.0,274.3 72.0,273.4 74.0,272.6 76.0,271.7 78.0,270.9 80.0,270.1 82.0,269.4 84.0,268.6 86.0,267.9 88.0,267.2 90.0,266.6 92.0,266.0 94.0,265.4 96.0,264.8 98.0,264.3 100.0,263.7 102.0,263.2 104.0,262.7 106.0,262.2 108.0,261.7 110.0,261.2 112.0,260.8 114.0,260.4 116.0,259.9 118.0,259.5 120.0,259.1 122.0,258.8 124.0,258.4 126.0,258.0 128.0,257.7 130.0,257.4 132.0,257.0 134.0,256.7 136.0,256.4 138.0,256.1 140.0,255.7 142.0,255.4 144.0,255.0 146.0,254.7 148.0,254.2 150.0,253.8 152.0,253.3 154.0,252.8 156.0,252.3 158.0,251.9 160.0,251.4 162.0,250.9 164.0,250.5 166.0,250.1 168.0,249.7 170.0,249.3 172.0,248.9 174.0,248.5 176.0,248.1 178.0,247.7 180.0,247.3 182.0,246.9 184.0,246.6 186.0,246.2 188.0,245.9 190.0,245.5 192.0,245.2 194.0,244.8 196.0,244.4 198.0,244.0 200.0,243.6 202.0,243.2 204.0,242.8 206.0,242.3 208.0,241.9 210.0,241.5 212.0,241.1 214.0,240.7 216.0,240.3 218.0,240.0 218.0,240.0" fill="none" stroke="#0072b2" stroke-width="1.35" stroke-linejoin="round"/>
<polyline clip-path="url(#cld)" points="31.6,354.8 31.8,354.8 32.9,323.6 34.0,307.9 36.0,306.2 38.0,304.6 40.0,303.3 42.0,302.1 44.0,301.0 46.0,300.2 48.0,299.3 50.0,298.4 52.0,297.6 54.0,296.8 56.0,296.0 58.0,295.2 60.0,294.4 62.0,293.6 64.0,292.7 66.0,291.9 68.0,291.0 70.0,290.2 72.0,289.4 74.0,288.7 76.0,288.1 78.0,287.5 80.0,287.1 82.0,286.6 84.0,286.2 86.0,285.9 88.0,285.5 90.0,285.2 92.0,284.8 94.0,284.5 96.0,284.1 98.0,283.8 100.0,283.4 102.0,283.0 104.0,282.5 106.0,282.1 108.0,281.7 110.0,281.3 112.0,280.9 114.0,280.5 116.0,280.2 118.0,279.8 120.0,279.5 122.0,279.1 124.0,278.8 126.0,278.5 128.0,278.1 130.0,277.8 132.0,277.5 134.0,277.2 136.0,276.8 138.0,276.5 140.0,276.2 142.0,275.8 144.0,275.5 146.0,275.2 148.0,274.9 150.0,274.6 152.0,274.3 154.0,274.0 156.0,273.8 158.0,273.5 160.0,273.3 162.0,273.1 164.0,272.9 166.0,272.7 168.0,272.4 170.0,272.2 172.0,272.0 174.0,271.8 176.0,271.6 178.0,271.4 180.0,271.2 182.0,271.0 184.0,270.9 186.0,270.7 188.0,270.5 190.0,270.3 192.0,270.1 194.0,269.9 196.0,269.7 198.0,269.5 200.0,269.4 202.0,269.2 204.0,269.0 206.0,268.8 208.0,268.7 210.0,268.5 212.0,268.3 214.0,268.2 216.0,268.0 218.0,267.8 218.0,267.8" fill="none" stroke="#c98db3" stroke-width="1.35" stroke-linejoin="round"/>
<polyline clip-path="url(#cld)" points="31.6,354.8 31.8,354.8 32.4,334.8 32.9,323.6 34.0,311.3 35.7,309.0 36.0,308.8 38.0,307.0 40.0,305.3 42.0,303.9 44.0,302.5 46.0,301.2 48.0,300.1 50.0,299.1 52.0,298.1 54.0,297.1 56.0,296.1 58.0,295.1 60.0,294.1 62.0,293.2 64.0,292.3 66.0,291.5 68.0,290.7 70.0,290.0 72.0,289.4 74.0,288.7 76.0,288.1 78.0,287.6 80.0,287.1 82.0,286.6 84.0,286.1 86.0,285.7 88.0,285.3 90.0,284.8 92.0,284.4 94.0,284.0 96.0,283.6 98.0,283.2 100.0,282.8 102.0,282.4 104.0,282.0 106.0,281.6 108.0,281.2 110.0,280.8 112.0,280.4 114.0,280.1 116.0,279.7 118.0,279.4 120.0,279.0 122.0,278.7 124.0,278.4 126.0,278.1 128.0,277.9 130.0,277.6 132.0,277.3 134.0,277.0 136.0,276.8 138.0,276.5 140.0,276.2 142.0,275.9 144.0,275.6 146.0,275.3 148.0,274.9 150.0,274.6 152.0,274.3 154.0,273.9 156.0,273.6 158.0,273.3 160.0,272.9 162.0,272.6 164.0,272.3 166.0,271.9 168.0,271.6 170.0,271.2 172.0,270.9 174.0,270.6 176.0,270.3 178.0,270.0 180.0,269.7 182.0,269.4 184.0,269.1 186.0,268.9 188.0,268.6 190.0,268.4 192.0,268.1 194.0,267.9 196.0,267.6 198.0,267.4 200.0,267.2 202.0,266.9 204.0,266.7 206.0,266.5 208.0,266.3 210.0,266.0 212.0,265.8 214.0,265.6 216.0,265.4 218.0,265.2 218.0,265.2" fill="none" stroke="#f8cc0a" stroke-width="1.35" stroke-linejoin="round"/>
<polyline clip-path="url(#cld)" points="31.6,354.8 31.8,354.8 32.4,337.0 33.5,333.7 35.7,327.0 36.0,326.7 38.0,324.6 40.0,321.7 42.0,319.1 44.0,317.3 46.0,315.7 48.0,314.4 50.0,313.2 52.0,312.0 54.0,310.8 56.0,309.7 58.0,308.9 60.0,308.2 62.0,307.6 64.0,307.1 66.0,306.6 68.0,306.1 70.0,305.6 72.0,304.9 74.0,304.2 76.0,303.5 78.0,302.8 80.0,302.2 82.0,301.6 84.0,301.1 86.0,300.6 88.0,300.2 90.0,299.8 92.0,299.4 94.0,299.0 96.0,298.6 98.0,298.2 100.0,297.8 102.0,297.3 104.0,296.8 106.0,296.4 108.0,295.9 110.0,295.5 112.0,295.1 114.0,294.6 116.0,294.2 118.0,293.8 120.0,293.4 122.0,293.1 124.0,292.7 126.0,292.3 128.0,292.0 130.0,291.6 132.0,291.3 134.0,290.9 136.0,290.6 138.0,290.4 140.0,290.1 142.0,289.8 144.0,289.5 146.0,289.3 148.0,289.0 150.0,288.7 152.0,288.4 154.0,288.1 156.0,287.7 158.0,287.4 160.0,287.0 162.0,286.7 164.0,286.3 166.0,285.9 168.0,285.6 170.0,285.2 172.0,284.9 174.0,284.5 176.0,284.2 178.0,283.9 180.0,283.6 182.0,283.3 184.0,283.0 186.0,282.7 188.0,282.4 190.0,282.1 192.0,281.8 194.0,281.5 196.0,281.2 198.0,280.9 200.0,280.7 202.0,280.4 204.0,280.2 206.0,279.9 208.0,279.7 210.0,279.4 212.0,279.2 214.0,279.0 216.0,278.7 218.0,278.5 218.0,278.5" fill="none" stroke="#13907a" stroke-width="1.35" stroke-linejoin="round"/>
<rect x="32.0" y="216.5" width="186.3" height="139.0" fill="none" stroke="#444" stroke-width="1"/>
<line x1="30.0" y1="355.5" x2="32.0" y2="355.5" stroke="#444" stroke-width="1"/>
<text x="28.6" y="360.0" text-anchor="end" font-family="Liberation Serif" font-size="12.5" fill="#111" stroke="#fff" stroke-width="0.2">2</text>
<line x1="30.0" y1="320.4" x2="32.0" y2="320.4" stroke="#444" stroke-width="1"/>
<text x="28.6" y="324.9" text-anchor="end" font-family="Liberation Serif" font-size="12.5" fill="#111" stroke="#fff" stroke-width="0.2">5</text>
<line x1="30.0" y1="285.3" x2="32.0" y2="285.3" stroke="#444" stroke-width="1"/>
<text x="28.6" y="289.8" text-anchor="end" font-family="Liberation Serif" font-size="12.5" fill="#111" stroke="#fff" stroke-width="0.2">7</text>
<line x1="30.0" y1="250.2" x2="32.0" y2="250.2" stroke="#444" stroke-width="1"/>
<text x="28.6" y="254.7" text-anchor="end" font-family="Liberation Serif" font-size="12.5" fill="#111" stroke="#fff" stroke-width="0.2" textLength="11" lengthAdjust="spacingAndGlyphs">10</text>
<line x1="69.3" y1="355.5" x2="69.3" y2="357.5" stroke="#444" stroke-width="1"/>
<text x="69.3" y="367.6" text-anchor="end" font-family="Liberation Serif" font-size="12.5" fill="#111" stroke="#fff" stroke-width="0.2" textLength="20.6" lengthAdjust="spacingAndGlyphs">0.02</text>
<line x1="106.5" y1="355.5" x2="106.5" y2="357.5" stroke="#444" stroke-width="1"/>
<text x="106.5" y="367.6" text-anchor="end" font-family="Liberation Serif" font-size="12.5" fill="#111" stroke="#fff" stroke-width="0.2" textLength="20.6" lengthAdjust="spacingAndGlyphs">0.04</text>
<line x1="143.8" y1="355.5" x2="143.8" y2="357.5" stroke="#444" stroke-width="1"/>
<text x="143.8" y="367.6" text-anchor="end" font-family="Liberation Serif" font-size="12.5" fill="#111" stroke="#fff" stroke-width="0.2" textLength="20.6" lengthAdjust="spacingAndGlyphs">0.06</text>
<line x1="181.0" y1="355.5" x2="181.0" y2="357.5" stroke="#444" stroke-width="1"/>
<text x="181.0" y="367.6" text-anchor="end" font-family="Liberation Serif" font-size="12.5" fill="#111" stroke="#fff" stroke-width="0.2" textLength="20.6" lengthAdjust="spacingAndGlyphs">0.08</text>
<line x1="218.3" y1="355.5" x2="218.3" y2="357.5" stroke="#444" stroke-width="1"/>
<text x="218.3" y="367.6" text-anchor="end" font-family="Liberation Serif" font-size="12.5" fill="#111" stroke="#fff" stroke-width="0.2" textLength="20.6" lengthAdjust="spacingAndGlyphs">0.10</text>
<text x="125.2" y="380.0" text-anchor="middle" font-family="Liberation Sans" font-size="10" fill="#000" textLength="31.2" lengthAdjust="spacingAndGlyphs">q-value</text>
<text transform="translate(12.399999999999999,286.0) rotate(-90)" text-anchor="middle" font-family="Liberation Sans" font-size="10" fill="#000" textLength="131.2" lengthAdjust="spacingAndGlyphs">Spectra identified (in 1000's)</text>
<text x="74.4" y="405.6" font-family="Liberation Serif" font-size="15" fill="#111" textLength="18.2" lengthAdjust="spacingAndGlyphs">(d)</text>
<text x="98.75" y="405.6" font-family="Liberation Serif" font-size="15" fill="#111" textLength="50.6" lengthAdjust="spacingAndGlyphs">Worm-3</text>
<clipPath id="cle"><rect x="238.0" y="216.5" width="186.3" height="139.0"/></clipPath>
<polyline clip-path="url(#cle)" points="237.8,355.0 238.1,334.8 238.4,312.4 239.5,301.2 241.7,290.0 242.0,289.1 244.0,283.5 246.0,281.9 248.0,280.6 250.0,279.3 252.0,277.7 254.0,275.6 256.0,273.7 258.0,272.3 260.0,271.1 262.0,269.9 264.0,268.5 266.0,267.1 268.0,265.8 270.0,264.6 272.0,263.5 274.0,262.3 276.0,261.0 278.0,259.6 280.0,258.1 282.0,256.8 284.0,255.6 286.0,254.5 288.0,253.7 290.0,252.9 292.0,252.3 294.0,251.6 296.0,251.0 298.0,250.3 300.0,249.7 302.0,249.0 304.0,248.3 306.0,247.6 308.0,246.8 310.0,246.1 312.0,245.3 314.0,244.5 316.0,243.8 318.0,243.1 320.0,242.3 322.0,241.7 324.0,241.0 326.0,240.3 328.0,239.7 330.0,239.0 332.0,238.4 334.0,237.7 336.0,237.1 338.0,236.4 340.0,235.8 342.0,235.1 344.0,234.5 346.0,233.9 348.0,233.3 350.0,232.8 352.0,232.2 354.0,231.7 356.0,231.2 358.0,230.7 360.0,230.3 362.0,229.8 364.0,229.4 366.0,229.0 368.0,228.6 370.0,228.1 372.0,227.7 374.0,227.3 376.0,226.8 378.0,226.4 380.0,225.9 382.0,225.5 384.0,225.0 386.0,224.5 388.0,224.0 390.0,223.5 392.0,223.0 394.0,222.6 396.0,222.1 398.0,221.6 400.0,221.2 402.0,220.7 404.0,220.3 406.0,219.8 408.0,219.4 410.0,219.0 412.0,218.6 414.0,218.1 416.0,217.7 418.0,217.3 420.0,216.9 422.0,216.5 424.0,216.0 424.0,216.0" fill="none" stroke="#000000" stroke-width="1.35" stroke-linejoin="round"/>
<polyline clip-path="url(#cle)" points="237.8,355.0 238.9,340.4 239.5,329.2 240.6,321.4 242.0,313.0 244.0,304.4 246.0,299.7 248.0,296.4 250.0,293.5 252.0,291.0 254.0,288.9 256.0,286.8 258.0,284.8 260.0,283.0 262.0,281.5 264.0,280.2 266.0,279.1 268.0,278.2 270.0,277.2 272.0,276.1 274.0,274.9 276.0,273.6 278.0,272.5 280.0,271.4 282.0,270.3 284.0,269.4 286.0,268.4 288.0,267.5 290.0,266.6 292.0,265.8 294.0,265.0 296.0,264.2 298.0,263.4 300.0,262.6 302.0,261.9 304.0,261.2 306.0,260.6 308.0,259.9 310.0,259.3 312.0,258.6 314.0,258.0 316.0,257.3 318.0,256.7 320.0,256.0 322.0,255.3 324.0,254.7 326.0,254.0 328.0,253.3 330.0,252.7 332.0,252.0 334.0,251.4 336.0,250.8 338.0,250.3 340.0,249.8 342.0,249.3 344.0,248.9 346.0,248.4 348.0,248.0 350.0,247.6 352.0,247.1 354.0,246.7 356.0,246.2 358.0,245.6 360.0,245.1 362.0,244.5 364.0,243.8 366.0,243.2 368.0,242.5 370.0,241.8 372.0,241.1 374.0,240.4 376.0,239.8 378.0,239.2 380.0,238.6 382.0,238.0 384.0,237.5 386.0,237.0 388.0,236.4 390.0,235.9 392.0,235.5 394.0,235.0 396.0,234.5 398.0,234.1 400.0,233.6 402.0,233.2 404.0,232.8 406.0,232.5 408.0,232.1 410.0,231.8 412.0,231.4 414.0,231.1 416.0,230.7 418.0,230.4 420.0,230.0 422.0,229.6 424.0,229.3 424.0,229.3" fill="none" stroke="#d55e00" stroke-width="1.35" stroke-linejoin="round"/>
<polyline clip-path="url(#cle)" points="237.8,355.0 238.9,334.8 239.5,314.6 242.0,310.4 244.0,307.1 246.0,303.8 248.0,301.0 250.0,298.8 252.0,297.5 254.0,296.3 256.0,295.1 258.0,294.0 260.0,292.9 262.0,291.8 264.0,290.5 266.0,289.0 268.0,287.5 270.0,286.2 272.0,285.3 274.0,284.4 276.0,283.7 278.0,282.9 280.0,282.2 282.0,281.5 284.0,280.7 286.0,280.0 288.0,279.3 290.0,278.6 292.0,278.0 294.0,277.3 296.0,276.8 298.0,276.2 300.0,275.6 302.0,275.1 304.0,274.5 306.0,274.0 308.0,273.5 310.0,273.0 312.0,272.5 314.0,272.0 316.0,271.6 318.0,271.1 320.0,270.7 322.0,270.2 324.0,269.8 326.0,269.4 328.0,269.0 330.0,268.6 332.0,268.3 334.0,267.9 336.0,267.6 338.0,267.4 340.0,267.1 342.0,266.9 344.0,266.7 346.0,266.4 348.0,266.2 350.0,266.0 352.0,265.7 354.0,265.4 356.0,265.0 358.0,264.7 360.0,264.3 362.0,263.9 364.0,263.4 366.0,263.0 368.0,262.5 370.0,262.1 372.0,261.6 374.0,261.1 376.0,260.7 378.0,260.2 380.0,259.8 382.0,259.4 384.0,259.0 386.0,258.6 388.0,258.2 390.0,257.8 392.0,257.4 394.0,257.0 396.0,256.6 398.0,256.2 400.0,255.8 402.0,255.4 404.0,255.0 406.0,254.6 408.0,254.2 410.0,253.8 412.0,253.4 414.0,253.0 416.0,252.6 418.0,252.2 420.0,251.8 422.0,251.4 424.0,251.0 424.0,251.0" fill="none" stroke="#0072b2" stroke-width="1.35" stroke-linejoin="round"/>
<polyline clip-path="url(#cle)" points="237.8,355.0 238.9,334.8 239.5,318.0 241.7,312.4 242.0,312.3 244.0,311.5 246.0,310.7 248.0,309.1 250.0,307.3 252.0,305.8 254.0,304.8 256.0,304.0 258.0,303.2 260.0,302.5 262.0,301.8 264.0,301.1 266.0,300.4 268.0,299.7 270.0,299.0 272.0,298.3 274.0,297.6 276.0,296.9 278.0,296.3 280.0,295.7 282.0,295.1 284.0,294.6 286.0,294.1 288.0,293.6 290.0,293.1 292.0,292.7 294.0,292.3 296.0,292.0 298.0,291.7 300.0,291.4 302.0,291.2 304.0,290.9 306.0,290.6 308.0,290.3 310.0,289.9 312.0,289.6 314.0,289.2 316.0,288.8 318.0,288.4 320.0,288.0 322.0,287.6 324.0,287.2 326.0,286.8 328.0,286.4 330.0,286.0 332.0,285.6 334.0,285.3 336.0,284.9 338.0,284.5 340.0,284.1 342.0,283.8 344.0,283.4 346.0,283.1 348.0,282.8 350.0,282.5 352.0,282.3 354.0,282.0 356.0,281.8 358.0,281.6 360.0,281.3 362.0,281.1 364.0,280.8 366.0,280.6 368.0,280.3 370.0,279.9 372.0,279.6 374.0,279.2 376.0,278.8 378.0,278.4 380.0,278.0 382.0,277.6 384.0,277.2 386.0,276.9 388.0,276.6 390.0,276.4 392.0,276.2 394.0,276.0 396.0,275.8 398.0,275.6 400.0,275.4 402.0,275.2 404.0,275.0 406.0,274.8 408.0,274.7 410.0,274.5 412.0,274.3 414.0,274.2 416.0,274.0 418.0,273.8 420.0,273.7 422.0,273.5 424.0,273.3 424.0,273.3" fill="none" stroke="#c98db3" stroke-width="1.35" stroke-linejoin="round"/>
<polyline clip-path="url(#cle)" points="237.8,355.0 238.4,338.2 239.5,325.8 240.6,320.2 242.0,319.3 244.0,317.9 246.0,316.0 248.0,313.6 250.0,310.6 252.0,308.1 254.0,306.6 256.0,305.4 258.0,304.4 260.0,303.5 262.0,302.7 264.0,301.9 266.0,301.1 268.0,300.4 270.0,299.6 272.0,298.9 274.0,298.2 276.0,297.5 278.0,296.8 280.0,296.2 282.0,295.7 284.0,295.1 286.0,294.6 288.0,294.2 290.0,293.8 292.0,293.4 294.0,292.9 296.0,292.5 298.0,292.0 300.0,291.5 302.0,290.9 304.0,290.4 306.0,289.8 308.0,289.3 310.0,288.7 312.0,288.2 314.0,287.7 316.0,287.2 318.0,286.7 320.0,286.3 322.0,285.8 324.0,285.4 326.0,284.9 328.0,284.5 330.0,284.1 332.0,283.6 334.0,283.2 336.0,282.7 338.0,282.3 340.0,281.8 342.0,281.4 344.0,281.0 346.0,280.6 348.0,280.2 350.0,279.8 352.0,279.4 354.0,279.1 356.0,278.8 358.0,278.5 360.0,278.1 362.0,277.8 364.0,277.5 366.0,277.2 368.0,276.9 370.0,276.6 372.0,276.2 374.0,275.9 376.0,275.6 378.0,275.4 380.0,275.1 382.0,274.8 384.0,274.6 386.0,274.3 388.0,274.1 390.0,273.9 392.0,273.7 394.0,273.5 396.0,273.3 398.0,273.1 400.0,272.9 402.0,272.7 404.0,272.4 406.0,272.2 408.0,272.0 410.0,271.8 412.0,271.6 414.0,271.4 416.0,271.2 418.0,270.9 420.0,270.7 422.0,270.5 424.0,270.3 424.0,270.3" fill="none" stroke="#f8cc0a" stroke-width="1.35" stroke-linejoin="round"/>
<polyline clip-path="url(#cle)" points="237.8,355.0 238.1,338.2 240.6,333.7 242.0,331.8 244.0,329.2 246.0,327.2 248.0,325.5 250.0,324.2 252.0,323.0 254.0,322.0 256.0,320.9 258.0,320.0 260.0,319.1 262.0,318.2 264.0,317.5 266.0,316.7 268.0,316.0 270.0,315.3 272.0,314.6 274.0,313.9 276.0,313.2 278.0,312.6 280.0,312.1 282.0,311.6 284.0,311.0 286.0,310.5 288.0,310.0 290.0,309.4 292.0,308.9 294.0,308.4 296.0,307.9 298.0,307.5 300.0,307.0 302.0,306.5 304.0,306.1 306.0,305.7 308.0,305.2 310.0,304.8 312.0,304.4 314.0,304.0 316.0,303.6 318.0,303.2 320.0,302.8 322.0,302.4 324.0,302.0 326.0,301.6 328.0,301.2 330.0,300.8 332.0,300.5 334.0,300.1 336.0,299.8 338.0,299.4 340.0,299.1 342.0,298.8 344.0,298.5 346.0,298.2 348.0,297.9 350.0,297.6 352.0,297.3 354.0,297.0 356.0,296.7 358.0,296.4 360.0,296.1 362.0,295.7 364.0,295.4 366.0,295.1 368.0,294.7 370.0,294.4 372.0,294.1 374.0,293.7 376.0,293.4 378.0,293.1 380.0,292.8 382.0,292.6 384.0,292.3 386.0,292.1 388.0,291.9 390.0,291.8 392.0,291.6 394.0,291.3 396.0,291.1 398.0,290.9 400.0,290.6 402.0,290.3 404.0,290.0 406.0,289.7 408.0,289.5 410.0,289.2 412.0,288.9 414.0,288.7 416.0,288.4 418.0,288.2 420.0,287.9 422.0,287.7 424.0,287.4 424.0,287.4" fill="none" stroke="#13907a" stroke-width="1.35" stroke-linejoin="round"/>
<rect x="238.0" y="216.5" width="186.3" height="139.0" fill="none" stroke="#444" stroke-width="1"/>
<line x1="236.0" y1="355.5" x2="238.0" y2="355.5" stroke="#444" stroke-width="1"/>
<text x="234.6" y="360.0" text-anchor="end" font-family="Liberation Serif" font-size="12.5" fill="#111" stroke="#fff" stroke-width="0.2">2</text>
<line x1="236.0" y1="312.4" x2="238.0" y2="312.4" stroke="#444" stroke-width="1"/>
<text x="234.6" y="316.9" text-anchor="end" font-family="Liberation Serif" font-size="12.5" fill="#111" stroke="#fff" stroke-width="0.2">4</text>
<line x1="236.0" y1="269.3" x2="238.0" y2="269.3" stroke="#444" stroke-width="1"/>
<text x="234.6" y="273.8" text-anchor="end" font-family="Liberation Serif" font-size="12.5" fill="#111" stroke="#fff" stroke-width="0.2">6</text>
<line x1="236.0" y1="226.2" x2="238.0" y2="226.2" stroke="#444" stroke-width="1"/>
<text x="234.6" y="230.7" text-anchor="end" font-family="Liberation Serif" font-size="12.5" fill="#111" stroke="#fff" stroke-width="0.2">8</text>
<line x1="275.3" y1="355.5" x2="275.3" y2="357.5" stroke="#444" stroke-width="1"/>
<text x="275.3" y="367.6" text-anchor="end" font-family="Liberation Serif" font-size="12.5" fill="#111" stroke="#fff" stroke-width="0.2" textLength="20.6" lengthAdjust="spacingAndGlyphs">0.02</text>
<line x1="312.5" y1="355.5" x2="312.5" y2="357.5" stroke="#444" stroke-width="1"/>
<text x="312.5" y="367.6" text-anchor="end" font-family="Liberation Serif" font-size="12.5" fill="#111" stroke="#fff" stroke-width="0.2" textLength="20.6" lengthAdjust="spacingAndGlyphs">0.04</text>
<line x1="349.8" y1="355.5" x2="349.8" y2="357.5" stroke="#444" stroke-width="1"/>
<text x="349.8" y="367.6" text-anchor="end" font-family="Liberation Serif" font-size="12.5" fill="#111" stroke="#fff" stroke-width="0.2" textLength="20.6" lengthAdjust="spacingAndGlyphs">0.06</text>
<line x1="387.0" y1="355.5" x2="387.0" y2="357.5" stroke="#444" stroke-width="1"/>
<text x="387.0" y="367.6" text-anchor="end" font-family="Liberation Serif" font-size="12.5" fill="#111" stroke="#fff" stroke-width="0.2" textLength="20.6" lengthAdjust="spacingAndGlyphs">0.08</text>
<line x1="424.3" y1="355.5" x2="424.3" y2="357.5" stroke="#444" stroke-width="1"/>
<text x="424.3" y="367.6" text-anchor="end" font-family="Liberation Serif" font-size="12.5" fill="#111" stroke="#fff" stroke-width="0.2" textLength="20.6" lengthAdjust="spacingAndGlyphs">0.10</text>
<text x="331.1" y="380.0" text-anchor="middle" font-family="Liberation Sans" font-size="10" fill="#000" textLength="31.2" lengthAdjust="spacingAndGlyphs">q-value</text>
<text x="292.1" y="405.5" font-family="Liberation Serif" font-size="15" fill="#111" textLength="16.9" lengthAdjust="spacingAndGlyphs">(e)</text>
<text x="315.9" y="405.5" font-family="Liberation Serif" font-size="15" fill="#111" textLength="50.7" lengthAdjust="spacingAndGlyphs">Worm-4</text>
<clipPath id="clf"><rect x="449.8" y="216.5" width="186.09999999999997" height="139.0"/></clipPath>
<polyline clip-path="url(#clf)" points="449.6,354.8 449.8,354.8 450.4,334.8 450.9,318.0 452.6,301.2 453.7,295.6 453.8,295.4 455.8,291.4 457.8,289.1 459.8,285.6 461.8,283.5 463.8,281.7 465.8,280.2 467.8,278.5 469.8,276.6 471.8,274.7 473.8,273.0 475.8,271.5 477.8,270.2 479.8,269.0 481.8,267.9 483.8,266.7 485.8,265.4 487.8,264.1 489.8,262.7 491.8,261.3 493.8,259.9 495.8,258.6 497.8,257.5 499.8,256.5 501.8,255.6 503.8,254.8 505.8,254.1 507.8,253.4 509.8,252.7 511.8,251.9 513.8,251.2 515.8,250.5 517.8,249.8 519.8,249.1 521.8,248.4 523.8,247.8 525.8,247.1 527.8,246.4 529.8,245.8 531.8,245.0 533.8,244.3 535.8,243.6 537.8,242.8 539.8,242.1 541.8,241.3 543.8,240.6 545.8,239.9 547.8,239.2 549.8,238.5 551.8,237.8 553.8,237.2 555.8,236.6 557.8,236.1 559.8,235.6 561.8,235.1 563.8,234.6 565.8,234.1 567.8,233.6 569.8,233.2 571.8,232.7 573.8,232.1 575.8,231.6 577.8,231.1 579.8,230.5 581.8,230.0 583.8,229.4 585.8,228.8 587.8,228.3 589.8,227.7 591.8,227.1 593.8,226.6 595.8,226.0 597.8,225.5 599.8,224.9 601.8,224.4 603.8,223.9 605.8,223.3 607.8,222.8 609.8,222.3 611.8,221.8 613.8,221.3 615.8,220.9 617.8,220.4 619.8,220.0 621.8,219.5 623.8,219.1 625.8,218.6 627.8,218.2 629.8,217.7 631.8,217.3 633.8,216.9 635.8,216.4 635.8,216.4" fill="none" stroke="#000000" stroke-width="1.35" stroke-linejoin="round"/>
<polyline clip-path="url(#clf)" points="449.6,354.8 449.8,354.8 450.1,334.8 450.4,319.1 452.6,306.8 453.8,302.8 455.8,296.2 457.8,291.1 459.8,287.5 461.8,284.7 463.8,282.6 465.8,280.6 467.8,278.9 469.8,277.3 471.8,275.9 473.8,274.8 475.8,273.8 477.8,272.8 479.8,271.9 481.8,271.1 483.8,270.3 485.8,269.4 487.8,268.6 489.8,267.7 491.8,266.9 493.8,266.1 495.8,265.4 497.8,264.8 499.8,264.3 501.8,263.9 503.8,263.5 505.8,263.1 507.8,262.6 509.8,262.1 511.8,261.6 513.8,261.0 515.8,260.4 517.8,259.8 519.8,259.2 521.8,258.6 523.8,258.0 525.8,257.4 527.8,256.9 529.8,256.3 531.8,255.8 533.8,255.2 535.8,254.7 537.8,254.2 539.8,253.7 541.8,253.2 543.8,252.8 545.8,252.3 547.8,251.9 549.8,251.5 551.8,251.1 553.8,250.7 555.8,250.4 557.8,250.0 559.8,249.7 561.8,249.3 563.8,249.0 565.8,248.6 567.8,248.2 569.8,247.8 571.8,247.4 573.8,247.0 575.8,246.6 577.8,246.2 579.8,245.8 581.8,245.4 583.8,245.0 585.8,244.6 587.8,244.2 589.8,243.8 591.8,243.4 593.8,243.0 595.8,242.6 597.8,242.2 599.8,241.8 601.8,241.4 603.8,241.0 605.8,240.6 607.8,240.2 609.8,239.8 611.8,239.4 613.8,239.0 615.8,238.6 617.8,238.2 619.8,237.8 621.8,237.4 623.8,236.9 625.8,236.5 627.8,236.1 629.8,235.6 631.8,235.2 633.8,234.8 635.8,234.3 635.8,234.3" fill="none" stroke="#c98db3" stroke-width="1.35" stroke-linejoin="round"/>
<polyline clip-path="url(#clf)" points="449.6,354.8 449.8,354.8 450.1,334.8 450.4,320.2 452.6,312.4 453.8,308.0 455.8,301.0 457.8,297.8 459.8,295.3 461.8,293.1 463.8,291.1 465.8,288.8 467.8,286.9 469.8,285.3 471.8,283.5 473.8,281.6 475.8,280.0 477.8,278.7 479.8,277.5 481.8,276.3 483.8,275.1 485.8,274.0 487.8,272.9 489.8,271.8 491.8,270.8 493.8,269.7 495.8,268.6 497.8,267.5 499.8,266.5 501.8,265.5 503.8,264.5 505.8,263.6 507.8,262.7 509.8,261.9 511.8,261.1 513.8,260.3 515.8,259.5 517.8,258.7 519.8,257.9 521.8,257.1 523.8,256.3 525.8,255.6 527.8,254.9 529.8,254.2 531.8,253.6 533.8,253.0 535.8,252.4 537.8,251.8 539.8,251.3 541.8,250.8 543.8,250.2 545.8,249.7 547.8,249.2 549.8,248.6 551.8,248.1 553.8,247.5 555.8,247.0 557.8,246.4 559.8,245.8 561.8,245.2 563.8,244.6 565.8,244.0 567.8,243.3 569.8,242.7 571.8,242.0 573.8,241.4 575.8,240.7 577.8,240.0 579.8,239.4 581.8,238.7 583.8,238.0 585.8,237.4 587.8,236.7 589.8,236.1 591.8,235.5 593.8,234.9 595.8,234.3 597.8,233.8 599.8,233.3 601.8,232.8 603.8,232.3 605.8,231.8 607.8,231.3 609.8,230.8 611.8,230.3 613.8,229.9 615.8,229.4 617.8,229.0 619.8,228.6 621.8,228.1 623.8,227.7 625.8,227.3 627.8,226.8 629.8,226.4 631.8,226.0 633.8,225.6 635.8,225.1 635.8,225.1" fill="none" stroke="#d55e00" stroke-width="1.35" stroke-linejoin="round"/>
<polyline clip-path="url(#clf)" points="449.6,354.8 449.8,354.8 450.1,334.8 450.4,321.4 452.6,315.8 453.8,312.8 455.8,307.9 457.8,303.4 459.8,300.7 461.8,298.7 463.8,296.5 465.8,294.2 467.8,291.9 469.8,289.8 471.8,288.0 473.8,286.4 475.8,284.9 477.8,283.6 479.8,282.3 481.8,281.1 483.8,280.0 485.8,278.9 487.8,277.9 489.8,276.9 491.8,276.0 493.8,275.1 495.8,274.2 497.8,273.4 499.8,272.6 501.8,271.9 503.8,271.2 505.8,270.5 507.8,269.9 509.8,269.3 511.8,268.6 513.8,268.0 515.8,267.4 517.8,266.7 519.8,266.1 521.8,265.4 523.8,264.7 525.8,264.1 527.8,263.4 529.8,262.7 531.8,262.1 533.8,261.5 535.8,260.8 537.8,260.2 539.8,259.6 541.8,259.0 543.8,258.4 545.8,257.8 547.8,257.2 549.8,256.6 551.8,255.9 553.8,255.3 555.8,254.7 557.8,254.1 559.8,253.5 561.8,253.0 563.8,252.4 565.8,251.9 567.8,251.4 569.8,251.0 571.8,250.5 573.8,250.0 575.8,249.6 577.8,249.1 579.8,248.6 581.8,248.1 583.8,247.6 585.8,247.1 587.8,246.6 589.8,246.1 591.8,245.7 593.8,245.2 595.8,244.7 597.8,244.2 599.8,243.7 601.8,243.2 603.8,242.7 605.8,242.2 607.8,241.8 609.8,241.4 611.8,241.0 613.8,240.6 615.8,240.2 617.8,239.9 619.8,239.5 621.8,239.2 623.8,238.9 625.8,238.5 627.8,238.2 629.8,237.9 631.8,237.5 633.8,237.2 635.8,236.8 635.8,236.8" fill="none" stroke="#f8cc0a" stroke-width="1.35" stroke-linejoin="round"/>
<polyline clip-path="url(#clf)" points="449.6,354.8 449.8,354.8 450.4,339.3 452.6,315.8 453.8,312.6 455.8,307.3 457.8,303.2 459.8,300.6 461.8,298.4 463.8,296.2 465.8,294.3 467.8,292.5 469.8,290.7 471.8,289.1 473.8,287.6 475.8,286.3 477.8,285.1 479.8,284.1 481.8,283.0 483.8,281.9 485.8,280.8 487.8,279.8 489.8,278.7 491.8,277.8 493.8,277.0 495.8,276.2 497.8,275.5 499.8,274.9 501.8,274.3 503.8,273.8 505.8,273.3 507.8,272.8 509.8,272.3 511.8,271.7 513.8,271.1 515.8,270.5 517.8,269.9 519.8,269.3 521.8,268.6 523.8,267.9 525.8,267.2 527.8,266.5 529.8,265.8 531.8,265.1 533.8,264.4 535.8,263.7 537.8,263.0 539.8,262.3 541.8,261.5 543.8,260.8 545.8,260.1 547.8,259.3 549.8,258.6 551.8,257.9 553.8,257.2 555.8,256.5 557.8,255.9 559.8,255.3 561.8,254.8 563.8,254.3 565.8,253.8 567.8,253.4 569.8,252.9 571.8,252.5 573.8,252.1 575.8,251.7 577.8,251.3 579.8,250.8 581.8,250.4 583.8,249.9 585.8,249.4 587.8,248.9 589.8,248.4 591.8,247.8 593.8,247.3 595.8,246.7 597.8,246.1 599.8,245.5 601.8,244.9 603.8,244.3 605.8,243.7 607.8,243.1 609.8,242.5 611.8,241.9 613.8,241.3 615.8,240.7 617.8,240.1 619.8,239.5 621.8,239.0 623.8,238.4 625.8,237.8 627.8,237.3 629.8,236.7 631.8,236.2 633.8,235.6 635.8,235.1 635.8,235.1" fill="none" stroke="#0072b2" stroke-width="1.35" stroke-linejoin="round"/>
<polyline clip-path="url(#clf)" points="449.6,354.8 449.8,354.8 451.5,340.4 453.8,331.1 455.8,325.0 457.8,321.1 459.8,317.8 461.8,314.9 463.8,312.6 465.8,310.9 467.8,309.3 469.8,307.8 471.8,306.6 473.8,305.4 475.8,304.3 477.8,303.2 479.8,302.2 481.8,301.2 483.8,300.3 485.8,299.4 487.8,298.6 489.8,297.8 491.8,297.0 493.8,296.2 495.8,295.5 497.8,294.7 499.8,293.9 501.8,293.1 503.8,292.3 505.8,291.5 507.8,290.7 509.8,289.9 511.8,289.1 513.8,288.3 515.8,287.5 517.8,286.7 519.8,285.9 521.8,285.1 523.8,284.3 525.8,283.5 527.8,282.7 529.8,281.9 531.8,281.1 533.8,280.3 535.8,279.5 537.8,278.8 539.8,278.0 541.8,277.3 543.8,276.6 545.8,275.9 547.8,275.3 549.8,274.6 551.8,274.0 553.8,273.4 555.8,272.9 557.8,272.3 559.8,271.8 561.8,271.3 563.8,270.8 565.8,270.3 567.8,269.8 569.8,269.4 571.8,268.9 573.8,268.5 575.8,268.0 577.8,267.6 579.8,267.1 581.8,266.6 583.8,266.1 585.8,265.6 587.8,265.0 589.8,264.5 591.8,263.9 593.8,263.3 595.8,262.8 597.8,262.2 599.8,261.7 601.8,261.2 603.8,260.7 605.8,260.2 607.8,259.7 609.8,259.2 611.8,258.6 613.8,258.1 615.8,257.6 617.8,257.1 619.8,256.6 621.8,256.1 623.8,255.6 625.8,255.1 627.8,254.6 629.8,254.1 631.8,253.6 633.8,253.1 635.8,252.6 635.8,252.6" fill="none" stroke="#13907a" stroke-width="1.35" stroke-linejoin="round"/>
<rect x="449.8" y="216.5" width="186.09999999999997" height="139.0" fill="none" stroke="#444" stroke-width="1"/>
<line x1="447.8" y1="355.5" x2="449.8" y2="355.5" stroke="#444" stroke-width="1"/>
<text x="446.40000000000003" y="360.0" text-anchor="end" font-family="Liberation Serif" font-size="12.5" fill="#111" stroke="#fff" stroke-width="0.2">5</text>
<line x1="447.8" y1="317.43" x2="449.8" y2="317.43" stroke="#444" stroke-width="1"/>
<text x="446.40000000000003" y="321.93" text-anchor="end" font-family="Liberation Serif" font-size="12.5" fill="#111" stroke="#fff" stroke-width="0.2">7</text>
<line x1="447.8" y1="279.37" x2="449.8" y2="279.37" stroke="#444" stroke-width="1"/>
<text x="446.40000000000003" y="283.87" text-anchor="end" font-family="Liberation Serif" font-size="12.5" fill="#111" stroke="#fff" stroke-width="0.2" textLength="11" lengthAdjust="spacingAndGlyphs">10</text>
<line x1="447.8" y1="241.3" x2="449.8" y2="241.3" stroke="#444" stroke-width="1"/>
<text x="446.40000000000003" y="245.8" text-anchor="end" font-family="Liberation Serif" font-size="12.5" fill="#111" stroke="#fff" stroke-width="0.2" textLength="11" lengthAdjust="spacingAndGlyphs">12</text>
<line x1="487.0" y1="355.5" x2="487.0" y2="357.5" stroke="#444" stroke-width="1"/>
<text x="487.0" y="367.6" text-anchor="end" font-family="Liberation Serif" font-size="12.5" fill="#111" stroke="#fff" stroke-width="0.2" textLength="20.6" lengthAdjust="spacingAndGlyphs">0.02</text>
<line x1="524.2" y1="355.5" x2="524.2" y2="357.5" stroke="#444" stroke-width="1"/>
<text x="524.2" y="367.6" text-anchor="end" font-family="Liberation Serif" font-size="12.5" fill="#111" stroke="#fff" stroke-width="0.2" textLength="20.6" lengthAdjust="spacingAndGlyphs">0.04</text>
<line x1="561.5" y1="355.5" x2="561.5" y2="357.5" stroke="#444" stroke-width="1"/>
<text x="561.5" y="367.6" text-anchor="end" font-family="Liberation Serif" font-size="12.5" fill="#111" stroke="#fff" stroke-width="0.2" textLength="20.6" lengthAdjust="spacingAndGlyphs">0.06</text>
<line x1="598.7" y1="355.5" x2="598.7" y2="357.5" stroke="#444" stroke-width="1"/>
<text x="598.7" y="367.6" text-anchor="end" font-family="Liberation Serif" font-size="12.5" fill="#111" stroke="#fff" stroke-width="0.2" textLength="20.6" lengthAdjust="spacingAndGlyphs">0.08</text>
<line x1="635.9" y1="355.5" x2="635.9" y2="357.5" stroke="#444" stroke-width="1"/>
<text x="635.9" y="367.6" text-anchor="end" font-family="Liberation Serif" font-size="12.5" fill="#111" stroke="#fff" stroke-width="0.2" textLength="20.6" lengthAdjust="spacingAndGlyphs">0.10</text>
<text x="542.9" y="380.0" text-anchor="middle" font-family="Liberation Sans" font-size="10" fill="#000" textLength="31.2" lengthAdjust="spacingAndGlyphs">q-value</text>
<text x="504.4" y="405.5" font-family="Liberation Serif" font-size="15" fill="#111" textLength="15.6" lengthAdjust="spacingAndGlyphs">(f)</text>
<text x="525.9" y="405.5" font-family="Liberation Serif" font-size="15" fill="#111" textLength="45.6" lengthAdjust="spacingAndGlyphs">Yeast-1</text>
<clipPath id="clg"><rect x="29.0" y="433.0" width="186.4" height="139.0"/></clipPath>
<polyline clip-path="url(#clg)" points="29.2,571.2 29.5,571.2 29.7,549.8 29.8,533.0 30.9,515.1 33.0,510.9 35.0,507.8 37.0,505.1 39.0,502.7 41.0,499.7 43.0,496.0 45.0,493.1 47.0,491.0 49.0,489.2 51.0,487.7 53.0,486.5 55.0,485.4 57.0,484.5 59.0,483.6 61.0,482.6 63.0,481.5 65.0,480.4 67.0,479.2 69.0,477.9 71.0,476.7 73.0,475.5 75.0,474.5 77.0,473.5 79.0,472.5 81.0,471.6 83.0,470.7 85.0,469.9 87.0,469.0 89.0,468.2 91.0,467.4 93.0,466.6 95.0,465.9 97.0,465.1 99.0,464.4 101.0,463.8 103.0,463.1 105.0,462.5 107.0,461.8 109.0,461.2 111.0,460.5 113.0,459.9 115.0,459.2 117.0,458.6 119.0,457.9 121.0,457.3 123.0,456.7 125.0,456.0 127.0,455.5 129.0,454.9 131.0,454.4 133.0,453.9 135.0,453.4 137.0,453.0 139.0,452.5 141.0,452.1 143.0,451.6 145.0,451.1 147.0,450.6 149.0,450.1 151.0,449.6 153.0,449.0 155.0,448.4 157.0,447.8 159.0,447.2 161.0,446.7 163.0,446.1 165.0,445.5 167.0,444.9 169.0,444.3 171.0,443.7 173.0,443.1 175.0,442.5 177.0,442.0 179.0,441.4 181.0,440.9 183.0,440.3 185.0,439.8 187.0,439.3 189.0,438.8 191.0,438.3 193.0,437.8 195.0,437.3 197.0,436.8 199.0,436.4 201.0,435.9 203.0,435.4 205.0,435.0 207.0,434.6 209.0,434.2 211.0,433.8 213.0,433.4 215.0,433.0 215.0,433.0" fill="none" stroke="#000000" stroke-width="1.35" stroke-linejoin="round"/>
<polyline clip-path="url(#clg)" points="29.2,571.2 29.5,571.2 29.8,549.8 30.4,527.4 31.5,517.3 33.0,513.8 35.0,509.2 37.0,505.4 39.0,502.4 41.0,500.4 43.0,498.4 45.0,496.9 47.0,495.6 49.0,494.4 51.0,493.2 53.0,492.0 55.0,490.8 57.0,489.6 59.0,488.5 61.0,487.4 63.0,486.3 65.0,485.4 67.0,484.5 69.0,483.6 71.0,482.8 73.0,482.1 75.0,481.5 77.0,480.9 79.0,480.4 81.0,480.0 83.0,479.5 85.0,479.1 87.0,478.6 89.0,478.1 91.0,477.5 93.0,476.9 95.0,476.4 97.0,475.8 99.0,475.2 101.0,474.6 103.0,474.0 105.0,473.4 107.0,472.8 109.0,472.3 111.0,471.7 113.0,471.2 115.0,470.6 117.0,470.1 119.0,469.6 121.0,469.1 123.0,468.6 125.0,468.1 127.0,467.6 129.0,467.2 131.0,466.7 133.0,466.3 135.0,465.8 137.0,465.4 139.0,465.0 141.0,464.6 143.0,464.2 145.0,463.8 147.0,463.3 149.0,462.9 151.0,462.4 153.0,462.0 155.0,461.6 157.0,461.1 159.0,460.7 161.0,460.2 163.0,459.8 165.0,459.4 167.0,458.9 169.0,458.4 171.0,458.0 173.0,457.5 175.0,457.0 177.0,456.5 179.0,456.0 181.0,455.5 183.0,455.0 185.0,454.5 187.0,454.1 189.0,453.6 191.0,453.1 193.0,452.7 195.0,452.3 197.0,451.9 199.0,451.4 201.0,451.0 203.0,450.7 205.0,450.3 207.0,449.9 209.0,449.5 211.0,449.1 213.0,448.8 215.0,448.4 215.0,448.4" fill="none" stroke="#c98db3" stroke-width="1.35" stroke-linejoin="round"/>
<polyline clip-path="url(#clg)" points="29.2,571.2 29.5,571.2 30.1,549.8 30.9,527.4 33.0,519.1 35.0,515.8 37.0,513.0 39.0,510.3 41.0,506.7 43.0,503.8 45.0,501.8 47.0,500.0 49.0,498.3 51.0,496.6 53.0,494.5 55.0,492.0 57.0,489.7 59.0,487.9 61.0,486.5 63.0,485.4 65.0,484.5 67.0,483.6 69.0,482.9 71.0,482.1 73.0,481.3 75.0,480.5 77.0,479.8 79.0,479.0 81.0,478.3 83.0,477.5 85.0,476.8 87.0,476.1 89.0,475.4 91.0,474.7 93.0,474.0 95.0,473.3 97.0,472.6 99.0,471.9 101.0,471.2 103.0,470.5 105.0,469.8 107.0,469.2 109.0,468.5 111.0,467.8 113.0,467.2 115.0,466.6 117.0,465.9 119.0,465.3 121.0,464.7 123.0,464.0 125.0,463.4 127.0,462.7 129.0,462.1 131.0,461.5 133.0,460.9 135.0,460.4 137.0,459.8 139.0,459.3 141.0,458.8 143.0,458.3 145.0,457.7 147.0,457.2 149.0,456.6 151.0,456.0 153.0,455.4 155.0,454.9 157.0,454.3 159.0,453.7 161.0,453.1 163.0,452.5 165.0,452.0 167.0,451.4 169.0,450.9 171.0,450.3 173.0,449.8 175.0,449.3 177.0,448.7 179.0,448.2 181.0,447.6 183.0,447.1 185.0,446.5 187.0,445.9 189.0,445.4 191.0,444.8 193.0,444.3 195.0,443.8 197.0,443.3 199.0,442.8 201.0,442.4 203.0,442.0 205.0,441.6 207.0,441.2 209.0,440.9 211.0,440.6 213.0,440.3 215.0,440.1 215.0,440.1" fill="none" stroke="#d55e00" stroke-width="1.35" stroke-linejoin="round"/>
<polyline clip-path="url(#clg)" points="29.2,570.7 29.4,555.1 29.5,555.1 29.8,549.8 30.9,530.8 32.6,524.0 33.0,523.4 35.0,520.0 37.0,516.9 39.0,513.9 41.0,511.2 43.0,509.2 45.0,507.1 47.0,504.8 49.0,502.1 51.0,500.0 53.0,498.5 55.0,497.2 57.0,495.9 59.0,494.5 61.0,493.2 63.0,492.0 65.0,490.9 67.0,489.9 69.0,489.0 71.0,488.0 73.0,487.2 75.0,486.5 77.0,485.8 79.0,485.4 81.0,484.9 83.0,484.5 85.0,484.1 87.0,483.5 89.0,483.0 91.0,482.3 93.0,481.7 95.0,481.0 97.0,480.4 99.0,479.7 101.0,479.1 103.0,478.5 105.0,477.9 107.0,477.3 109.0,476.6 111.0,476.0 113.0,475.5 115.0,474.9 117.0,474.3 119.0,473.7 121.0,473.1 123.0,472.6 125.0,472.0 127.0,471.5 129.0,470.9 131.0,470.4 133.0,469.8 135.0,469.3 137.0,468.7 139.0,468.2 141.0,467.6 143.0,467.0 145.0,466.5 147.0,466.0 149.0,465.5 151.0,464.9 153.0,464.4 155.0,463.9 157.0,463.4 159.0,462.9 161.0,462.4 163.0,461.9 165.0,461.4 167.0,460.9 169.0,460.4 171.0,459.9 173.0,459.4 175.0,458.9 177.0,458.4 179.0,457.9 181.0,457.4 183.0,457.0 185.0,456.5 187.0,456.0 189.0,455.5 191.0,455.1 193.0,454.6 195.0,454.2 197.0,453.8 199.0,453.4 201.0,453.0 203.0,452.6 205.0,452.2 207.0,451.8 209.0,451.4 211.0,451.1 213.0,450.7 215.0,450.4 215.0,450.4" fill="none" stroke="#f8cc0a" stroke-width="1.35" stroke-linejoin="round"/>
<polyline clip-path="url(#clg)" points="29.2,570.7 29.4,558.2 29.5,558.2 30.4,549.8 32.6,530.8 33.0,529.4 35.0,523.0 37.0,520.0 39.0,517.3 41.0,514.5 43.0,511.8 45.0,509.7 47.0,507.9 49.0,506.1 51.0,503.8 53.0,501.9 55.0,500.7 57.0,499.7 59.0,498.7 61.0,497.5 63.0,496.3 65.0,495.1 67.0,494.0 69.0,493.1 71.0,492.2 73.0,491.4 75.0,490.6 77.0,489.9 79.0,489.2 81.0,488.5 83.0,487.8 85.0,487.1 87.0,486.4 89.0,485.6 91.0,484.9 93.0,484.2 95.0,483.5 97.0,482.8 99.0,482.1 101.0,481.4 103.0,480.8 105.0,480.1 107.0,479.4 109.0,478.7 111.0,478.1 113.0,477.4 115.0,476.8 117.0,476.2 119.0,475.6 121.0,475.0 123.0,474.4 125.0,473.8 127.0,473.1 129.0,472.5 131.0,471.9 133.0,471.3 135.0,470.7 137.0,470.0 139.0,469.4 141.0,468.8 143.0,468.1 145.0,467.5 147.0,466.9 149.0,466.2 151.0,465.6 153.0,464.9 155.0,464.3 157.0,463.6 159.0,462.9 161.0,462.3 163.0,461.6 165.0,461.0 167.0,460.3 169.0,459.7 171.0,459.1 173.0,458.4 175.0,457.8 177.0,457.2 179.0,456.6 181.0,456.0 183.0,455.4 185.0,454.9 187.0,454.3 189.0,453.7 191.0,453.2 193.0,452.6 195.0,452.1 197.0,451.6 199.0,451.1 201.0,450.6 203.0,450.2 205.0,449.7 207.0,449.3 209.0,448.9 211.0,448.5 213.0,448.1 215.0,447.7 215.0,447.7" fill="none" stroke="#0072b2" stroke-width="1.35" stroke-linejoin="round"/>
<polyline clip-path="url(#clg)" points="29.2,571.2 29.5,571.2 30.4,555.4 32.0,545.3 33.0,541.5 35.0,536.9 37.0,534.2 39.0,531.4 41.0,529.5 43.0,528.0 45.0,526.7 47.0,525.5 49.0,523.9 51.0,521.8 53.0,519.8 55.0,518.1 57.0,516.6 59.0,515.2 61.0,514.0 63.0,512.9 65.0,511.8 67.0,510.8 69.0,509.8 71.0,508.9 73.0,508.0 75.0,507.2 77.0,506.4 79.0,505.6 81.0,504.8 83.0,504.0 85.0,503.3 87.0,502.6 89.0,501.9 91.0,501.3 93.0,500.6 95.0,500.0 97.0,499.4 99.0,498.7 101.0,498.0 103.0,497.4 105.0,496.7 107.0,496.0 109.0,495.4 111.0,494.7 113.0,494.1 115.0,493.5 117.0,492.8 119.0,492.2 121.0,491.6 123.0,491.0 125.0,490.4 127.0,489.9 129.0,489.3 131.0,488.8 133.0,488.3 135.0,487.8 137.0,487.4 139.0,487.0 141.0,486.6 143.0,486.2 145.0,485.8 147.0,485.4 149.0,485.1 151.0,484.7 153.0,484.3 155.0,483.9 157.0,483.5 159.0,483.0 161.0,482.6 163.0,482.2 165.0,481.8 167.0,481.3 169.0,480.8 171.0,480.3 173.0,479.8 175.0,479.3 177.0,478.8 179.0,478.3 181.0,477.7 183.0,477.1 185.0,476.5 187.0,476.0 189.0,475.4 191.0,474.8 193.0,474.2 195.0,473.6 197.0,473.0 199.0,472.5 201.0,471.9 203.0,471.4 205.0,470.9 207.0,470.5 209.0,470.0 211.0,469.6 213.0,469.2 215.0,468.8 215.0,468.8" fill="none" stroke="#13907a" stroke-width="1.35" stroke-linejoin="round"/>
<rect x="29.0" y="433.0" width="186.4" height="139.0" fill="none" stroke="#444" stroke-width="1"/>
<line x1="27.0" y1="572.0" x2="29.0" y2="572.0" stroke="#444" stroke-width="1"/>
<text x="25.6" y="576.5" text-anchor="end" font-family="Liberation Serif" font-size="12.5" fill="#111" stroke="#fff" stroke-width="0.2">5</text>
<line x1="27.0" y1="537.25" x2="29.0" y2="537.25" stroke="#444" stroke-width="1"/>
<text x="25.6" y="541.75" text-anchor="end" font-family="Liberation Serif" font-size="12.5" fill="#111" stroke="#fff" stroke-width="0.2">7</text>
<line x1="27.0" y1="502.5" x2="29.0" y2="502.5" stroke="#444" stroke-width="1"/>
<text x="25.6" y="507.0" text-anchor="end" font-family="Liberation Serif" font-size="12.5" fill="#111" stroke="#fff" stroke-width="0.2" textLength="11" lengthAdjust="spacingAndGlyphs">10</text>
<line x1="27.0" y1="467.75" x2="29.0" y2="467.75" stroke="#444" stroke-width="1"/>
<text x="25.6" y="472.25" text-anchor="end" font-family="Liberation Serif" font-size="12.5" fill="#111" stroke="#fff" stroke-width="0.2" textLength="11" lengthAdjust="spacingAndGlyphs">12</text>
<line x1="27.0" y1="433.0" x2="29.0" y2="433.0" stroke="#444" stroke-width="1"/>
<text x="25.6" y="437.5" text-anchor="end" font-family="Liberation Serif" font-size="12.5" fill="#111" stroke="#fff" stroke-width="0.2" textLength="11" lengthAdjust="spacingAndGlyphs">15</text>
<line x1="66.3" y1="572.0" x2="66.3" y2="574.0" stroke="#444" stroke-width="1"/>
<text x="66.3" y="584.1" text-anchor="end" font-family="Liberation Serif" font-size="12.5" fill="#111" stroke="#fff" stroke-width="0.2" textLength="20.6" lengthAdjust="spacingAndGlyphs">0.02</text>
<line x1="103.6" y1="572.0" x2="103.6" y2="574.0" stroke="#444" stroke-width="1"/>
<text x="103.6" y="584.1" text-anchor="end" font-family="Liberation Serif" font-size="12.5" fill="#111" stroke="#fff" stroke-width="0.2" textLength="20.6" lengthAdjust="spacingAndGlyphs">0.04</text>
<line x1="140.8" y1="572.0" x2="140.8" y2="574.0" stroke="#444" stroke-width="1"/>
<text x="140.8" y="584.1" text-anchor="end" font-family="Liberation Serif" font-size="12.5" fill="#111" stroke="#fff" stroke-width="0.2" textLength="20.6" lengthAdjust="spacingAndGlyphs">0.06</text>
<line x1="178.1" y1="572.0" x2="178.1" y2="574.0" stroke="#444" stroke-width="1"/>
<text x="178.1" y="584.1" text-anchor="end" font-family="Liberation Serif" font-size="12.5" fill="#111" stroke="#fff" stroke-width="0.2" textLength="20.6" lengthAdjust="spacingAndGlyphs">0.08</text>
<line x1="215.4" y1="572.0" x2="215.4" y2="574.0" stroke="#444" stroke-width="1"/>
<text x="215.4" y="584.1" text-anchor="end" font-family="Liberation Serif" font-size="12.5" fill="#111" stroke="#fff" stroke-width="0.2" textLength="20.6" lengthAdjust="spacingAndGlyphs">0.10</text>
<text x="122.2" y="596.5" text-anchor="middle" font-family="Liberation Sans" font-size="10" fill="#000" textLength="31.2" lengthAdjust="spacingAndGlyphs">q-value</text>
<text transform="translate(9.399999999999999,502.5) rotate(-90)" text-anchor="middle" font-family="Liberation Sans" font-size="10" fill="#000" textLength="131.2" lengthAdjust="spacingAndGlyphs">Spectra identified (in 1000's)</text>
<text x="74.1" y="621.6" font-family="Liberation Serif" font-size="15" fill="#111" textLength="17.4" lengthAdjust="spacingAndGlyphs">(g)</text>
<text x="98.4" y="621.6" font-family="Liberation Serif" font-size="15" fill="#111" textLength="45.6" lengthAdjust="spacingAndGlyphs">Yeast-2</text>
<clipPath id="clh"><rect x="240.8" y="433.0" width="186.5" height="139.0"/></clipPath>
<polyline clip-path="url(#clh)" points="240.6,571.2 240.8,571.2 241.0,549.8 241.4,518.4 243.6,509.5 244.8,507.1 246.8,500.9 248.8,499.0 250.8,496.8 252.8,494.4 254.8,492.1 256.8,490.4 258.8,488.8 260.8,487.1 262.8,485.5 264.8,483.8 266.8,482.4 268.8,481.1 270.8,480.1 272.8,479.2 274.8,478.2 276.8,477.3 278.8,476.4 280.8,475.4 282.8,474.3 284.8,473.3 286.8,472.3 288.8,471.5 290.8,470.7 292.8,470.0 294.8,469.4 296.8,468.8 298.8,468.2 300.8,467.6 302.8,467.0 304.8,466.3 306.8,465.7 308.8,465.0 310.8,464.3 312.8,463.7 314.8,463.0 316.8,462.3 318.8,461.6 320.8,460.9 322.8,460.2 324.8,459.5 326.8,458.8 328.8,458.1 330.8,457.4 332.8,456.8 334.8,456.1 336.8,455.5 338.8,454.9 340.8,454.3 342.8,453.8 344.8,453.3 346.8,452.8 348.8,452.3 350.8,451.9 352.8,451.5 354.8,451.1 356.8,450.7 358.8,450.3 360.8,449.9 362.8,449.5 364.8,449.0 366.8,448.6 368.8,448.0 370.8,447.5 372.8,446.9 374.8,446.3 376.8,445.7 378.8,445.1 380.8,444.5 382.8,443.8 384.8,443.2 386.8,442.6 388.8,442.1 390.8,441.5 392.8,441.0 394.8,440.5 396.8,440.0 398.8,439.5 400.8,439.1 402.8,438.6 404.8,438.2 406.8,437.7 408.8,437.2 410.8,436.7 412.8,436.2 414.8,435.7 416.8,435.2 418.8,434.6 420.8,434.1 422.8,433.6 424.8,433.2 426.8,432.8 427.3,432.7" fill="none" stroke="#000000" stroke-width="1.35" stroke-linejoin="round"/>
<polyline clip-path="url(#clh)" points="240.6,571.2 240.8,571.2 241.0,549.8 241.4,521.8 242.5,516.2 244.8,510.8 246.8,506.9 248.8,503.2 250.8,500.1 252.8,497.7 254.8,495.5 256.8,493.7 258.8,492.1 260.8,490.7 262.8,489.5 264.8,488.3 266.8,487.2 268.8,486.3 270.8,485.4 272.8,484.6 274.8,483.7 276.8,482.9 278.8,482.1 280.8,481.3 282.8,480.6 284.8,479.8 286.8,479.2 288.8,478.5 290.8,478.0 292.8,477.5 294.8,477.0 296.8,476.6 298.8,476.2 300.8,475.7 302.8,475.2 304.8,474.6 306.8,474.0 308.8,473.4 310.8,472.7 312.8,472.1 314.8,471.5 316.8,470.8 318.8,470.2 320.8,469.6 322.8,469.0 324.8,468.4 326.8,467.8 328.8,467.2 330.8,466.6 332.8,466.1 334.8,465.5 336.8,465.0 338.8,464.5 340.8,464.0 342.8,463.5 344.8,463.1 346.8,462.7 348.8,462.4 350.8,462.1 352.8,461.8 354.8,461.6 356.8,461.3 358.8,461.0 360.8,460.7 362.8,460.4 364.8,460.0 366.8,459.6 368.8,459.1 370.8,458.7 372.8,458.2 374.8,457.8 376.8,457.4 378.8,456.9 380.8,456.5 382.8,456.1 384.8,455.7 386.8,455.3 388.8,454.9 390.8,454.5 392.8,454.1 394.8,453.7 396.8,453.3 398.8,452.9 400.8,452.5 402.8,452.1 404.8,451.7 406.8,451.3 408.8,450.9 410.8,450.5 412.8,450.0 414.8,449.6 416.8,449.2 418.8,448.8 420.8,448.4 422.8,448.0 424.8,447.6 426.8,447.2 427.3,447.1" fill="none" stroke="#c98db3" stroke-width="1.35" stroke-linejoin="round"/>
<polyline clip-path="url(#clh)" points="240.6,571.2 240.8,571.2 241.0,549.8 241.4,527.4 243.6,516.2 244.8,514.2 246.8,510.9 248.8,507.5 250.8,504.5 252.8,502.2 254.8,500.0 256.8,498.0 258.8,496.3 260.8,494.6 262.8,493.0 264.8,491.4 266.8,489.8 268.8,488.4 270.8,487.2 272.8,486.0 274.8,484.9 276.8,484.0 278.8,483.1 280.8,482.2 282.8,481.3 284.8,480.5 286.8,479.7 288.8,478.9 290.8,478.1 292.8,477.4 294.8,476.6 296.8,475.9 298.8,475.1 300.8,474.4 302.8,473.6 304.8,472.9 306.8,472.2 308.8,471.5 310.8,470.8 312.8,470.1 314.8,469.4 316.8,468.7 318.8,468.0 320.8,467.3 322.8,466.7 324.8,466.0 326.8,465.4 328.8,464.7 330.8,464.1 332.8,463.6 334.8,463.0 336.8,462.5 338.8,462.0 340.8,461.5 342.8,461.0 344.8,460.6 346.8,460.2 348.8,459.8 350.8,459.4 352.8,459.0 354.8,458.6 356.8,458.2 358.8,457.8 360.8,457.3 362.8,456.8 364.8,456.2 366.8,455.6 368.8,455.0 370.8,454.4 372.8,453.9 374.8,453.3 376.8,452.7 378.8,452.2 380.8,451.6 382.8,451.1 384.8,450.6 386.8,450.1 388.8,449.6 390.8,449.1 392.8,448.6 394.8,448.1 396.8,447.6 398.8,447.1 400.8,446.6 402.8,446.1 404.8,445.6 406.8,445.1 408.8,444.6 410.8,444.1 412.8,443.6 414.8,443.1 416.8,442.6 418.8,442.1 420.8,441.6 422.8,441.1 424.8,440.6 426.8,440.1 427.3,440.0" fill="none" stroke="#d55e00" stroke-width="1.35" stroke-linejoin="round"/>
<polyline clip-path="url(#clh)" points="240.6,571.2 240.8,571.2 241.1,549.8 241.4,538.6 242.5,529.6 244.7,521.8 244.8,521.6 246.8,516.9 248.8,513.1 250.8,510.6 252.8,508.1 254.8,505.8 256.8,503.6 258.8,501.8 260.8,500.2 262.8,498.7 264.8,497.3 266.8,495.9 268.8,494.6 270.8,493.4 272.8,492.2 274.8,491.0 276.8,489.9 278.8,488.7 280.8,487.6 282.8,486.6 284.8,485.6 286.8,484.7 288.8,483.8 290.8,482.9 292.8,482.0 294.8,481.1 296.8,480.2 298.8,479.3 300.8,478.5 302.8,477.6 304.8,476.8 306.8,476.1 308.8,475.4 310.8,474.7 312.8,474.0 314.8,473.4 316.8,472.8 318.8,472.1 320.8,471.5 322.8,470.9 324.8,470.3 326.8,469.7 328.8,469.1 330.8,468.5 332.8,467.9 334.8,467.3 336.8,466.7 338.8,466.2 340.8,465.6 342.8,465.1 344.8,464.6 346.8,464.1 348.8,463.7 350.8,463.3 352.8,462.9 354.8,462.6 356.8,462.3 358.8,462.0 360.8,461.6 362.8,461.2 364.8,460.8 366.8,460.4 368.8,459.9 370.8,459.4 372.8,459.0 374.8,458.5 376.8,458.0 378.8,457.6 380.8,457.2 382.8,456.7 384.8,456.3 386.8,455.9 388.8,455.5 390.8,455.1 392.8,454.7 394.8,454.3 396.8,453.9 398.8,453.5 400.8,453.1 402.8,452.7 404.8,452.4 406.8,452.0 408.8,451.6 410.8,451.3 412.8,451.0 414.8,450.7 416.8,450.4 418.8,450.1 420.8,449.8 422.8,449.6 424.8,449.3 426.8,449.1 427.3,449.0" fill="none" stroke="#f8cc0a" stroke-width="1.35" stroke-linejoin="round"/>
<polyline clip-path="url(#clh)" points="240.6,571.2 240.8,571.2 241.9,549.8 243.0,535.2 244.8,528.2 246.8,521.8 248.8,517.2 250.8,513.8 252.8,510.9 254.8,508.6 256.8,507.0 258.8,505.3 260.8,503.6 262.8,501.7 264.8,499.9 266.8,498.0 268.8,496.3 270.8,494.7 272.8,493.4 274.8,492.4 276.8,491.4 278.8,490.5 280.8,489.6 282.8,488.6 284.8,487.7 286.8,486.8 288.8,486.0 290.8,485.2 292.8,484.4 294.8,483.7 296.8,483.1 298.8,482.4 300.8,481.7 302.8,481.1 304.8,480.4 306.8,479.8 308.8,479.1 310.8,478.5 312.8,477.8 314.8,477.2 316.8,476.6 318.8,476.0 320.8,475.4 322.8,474.8 324.8,474.2 326.8,473.6 328.8,472.9 330.8,472.3 332.8,471.7 334.8,471.1 336.8,470.5 338.8,469.8 340.8,469.2 342.8,468.6 344.8,468.0 346.8,467.4 348.8,466.8 350.8,466.2 352.8,465.7 354.8,465.2 356.8,464.7 358.8,464.2 360.8,463.7 362.8,463.2 364.8,462.6 366.8,462.0 368.8,461.4 370.8,460.8 372.8,460.1 374.8,459.5 376.8,458.9 378.8,458.3 380.8,457.7 382.8,457.1 384.8,456.5 386.8,456.0 388.8,455.4 390.8,454.9 392.8,454.3 394.8,453.8 396.8,453.3 398.8,452.7 400.8,452.2 402.8,451.6 404.8,451.1 406.8,450.5 408.8,450.0 410.8,449.5 412.8,449.0 414.8,448.5 416.8,448.0 418.8,447.6 420.8,447.1 422.8,446.7 424.8,446.3 426.8,445.9 427.3,445.8" fill="none" stroke="#0072b2" stroke-width="1.35" stroke-linejoin="round"/>
<polyline clip-path="url(#clh)" points="240.6,571.2 240.8,571.2 241.9,555.4 243.6,545.3 244.7,535.2 244.8,535.1 246.8,531.8 248.8,529.0 250.8,527.3 252.8,525.1 254.8,522.4 256.8,521.0 258.8,520.2 260.8,519.2 262.8,518.1 264.8,517.0 266.8,515.7 268.8,514.3 270.8,512.9 272.8,511.8 274.8,510.7 276.8,509.6 278.8,508.5 280.8,507.4 282.8,506.3 284.8,505.2 286.8,504.2 288.8,503.2 290.8,502.4 292.8,501.7 294.8,501.0 296.8,500.3 298.8,499.7 300.8,499.1 302.8,498.5 304.8,497.8 306.8,497.1 308.8,496.4 310.8,495.7 312.8,494.9 314.8,494.2 316.8,493.4 318.8,492.7 320.8,492.0 322.8,491.3 324.8,490.7 326.8,490.1 328.8,489.6 330.8,489.1 332.8,488.6 334.8,488.1 336.8,487.7 338.8,487.3 340.8,486.9 342.8,486.4 344.8,486.0 346.8,485.5 348.8,485.1 350.8,484.6 352.8,484.1 354.8,483.5 356.8,483.0 358.8,482.5 360.8,482.1 362.8,481.6 364.8,481.2 366.8,480.8 368.8,480.4 370.8,480.0 372.8,479.6 374.8,479.2 376.8,478.8 378.8,478.3 380.8,477.9 382.8,477.5 384.8,477.1 386.8,476.7 388.8,476.3 390.8,475.9 392.8,475.5 394.8,475.1 396.8,474.7 398.8,474.2 400.8,473.8 402.8,473.3 404.8,472.8 406.8,472.2 408.8,471.7 410.8,471.2 412.8,470.7 414.8,470.2 416.8,469.8 418.8,469.3 420.8,468.9 422.8,468.5 424.8,468.0 426.8,467.6 427.3,467.5" fill="none" stroke="#13907a" stroke-width="1.35" stroke-linejoin="round"/>
<rect x="240.8" y="433.0" width="186.5" height="139.0" fill="none" stroke="#444" stroke-width="1"/>
<line x1="238.8" y1="572.0" x2="240.8" y2="572.0" stroke="#444" stroke-width="1"/>
<text x="237.4" y="576.5" text-anchor="end" font-family="Liberation Serif" font-size="12.5" fill="#111" stroke="#fff" stroke-width="0.2">4</text>
<line x1="238.8" y1="543.6" x2="240.8" y2="543.6" stroke="#444" stroke-width="1"/>
<text x="237.4" y="548.1" text-anchor="end" font-family="Liberation Serif" font-size="12.5" fill="#111" stroke="#fff" stroke-width="0.2">6</text>
<line x1="238.8" y1="515.2" x2="240.8" y2="515.2" stroke="#444" stroke-width="1"/>
<text x="237.4" y="519.7" text-anchor="end" font-family="Liberation Serif" font-size="12.5" fill="#111" stroke="#fff" stroke-width="0.2">8</text>
<line x1="238.8" y1="486.8" x2="240.8" y2="486.8" stroke="#444" stroke-width="1"/>
<text x="237.4" y="491.3" text-anchor="end" font-family="Liberation Serif" font-size="12.5" fill="#111" stroke="#fff" stroke-width="0.2" textLength="11" lengthAdjust="spacingAndGlyphs">10</text>
<line x1="238.8" y1="458.4" x2="240.8" y2="458.4" stroke="#444" stroke-width="1"/>
<text x="237.4" y="462.9" text-anchor="end" font-family="Liberation Serif" font-size="12.5" fill="#111" stroke="#fff" stroke-width="0.2" textLength="11" lengthAdjust="spacingAndGlyphs">12</text>
<line x1="278.1" y1="572.0" x2="278.1" y2="574.0" stroke="#444" stroke-width="1"/>
<text x="278.1" y="584.1" text-anchor="end" font-family="Liberation Serif" font-size="12.5" fill="#111" stroke="#fff" stroke-width="0.2" textLength="20.6" lengthAdjust="spacingAndGlyphs">0.02</text>
<line x1="315.4" y1="572.0" x2="315.4" y2="574.0" stroke="#444" stroke-width="1"/>
<text x="315.4" y="584.1" text-anchor="end" font-family="Liberation Serif" font-size="12.5" fill="#111" stroke="#fff" stroke-width="0.2" textLength="20.6" lengthAdjust="spacingAndGlyphs">0.04</text>
<line x1="352.7" y1="572.0" x2="352.7" y2="574.0" stroke="#444" stroke-width="1"/>
<text x="352.7" y="584.1" text-anchor="end" font-family="Liberation Serif" font-size="12.5" fill="#111" stroke="#fff" stroke-width="0.2" textLength="20.6" lengthAdjust="spacingAndGlyphs">0.06</text>
<line x1="390.0" y1="572.0" x2="390.0" y2="574.0" stroke="#444" stroke-width="1"/>
<text x="390.0" y="584.1" text-anchor="end" font-family="Liberation Serif" font-size="12.5" fill="#111" stroke="#fff" stroke-width="0.2" textLength="20.6" lengthAdjust="spacingAndGlyphs">0.08</text>
<line x1="427.3" y1="572.0" x2="427.3" y2="574.0" stroke="#444" stroke-width="1"/>
<text x="427.3" y="584.1" text-anchor="end" font-family="Liberation Serif" font-size="12.5" fill="#111" stroke="#fff" stroke-width="0.2" textLength="20.6" lengthAdjust="spacingAndGlyphs">0.10</text>
<text x="334.1" y="596.5" text-anchor="middle" font-family="Liberation Sans" font-size="10" fill="#000" textLength="31.2" lengthAdjust="spacingAndGlyphs">q-value</text>
<text x="294.4" y="621.6" font-family="Liberation Serif" font-size="15" fill="#111" textLength="17.5" lengthAdjust="spacingAndGlyphs">(h)</text>
<text x="319.1" y="621.6" font-family="Liberation Serif" font-size="15" fill="#111" textLength="45.2" lengthAdjust="spacingAndGlyphs">Yeast-3</text>
<clipPath id="cli"><rect x="452.6" y="433.0" width="186.39999999999998" height="139.0"/></clipPath>
<polyline clip-path="url(#cli)" points="452.5,571.6 452.9,549.8 453.4,525.2 455.0,514.0 456.6,507.9 458.6,501.7 460.6,497.7 462.6,494.7 464.6,492.2 466.6,490.0 468.6,487.9 470.6,485.9 472.6,484.2 474.6,482.8 476.6,481.6 478.6,480.5 480.6,479.5 482.6,478.5 484.6,477.6 486.6,476.7 488.6,475.8 490.6,475.0 492.6,474.2 494.6,473.5 496.6,472.9 498.6,472.2 500.6,471.6 502.6,470.9 504.6,470.2 506.6,469.5 508.6,468.8 510.6,468.1 512.6,467.3 514.6,466.6 516.6,465.8 518.6,465.1 520.6,464.3 522.6,463.5 524.6,462.8 526.6,462.1 528.6,461.4 530.6,460.7 532.6,460.0 534.6,459.3 536.6,458.7 538.6,458.1 540.6,457.5 542.6,456.8 544.6,456.3 546.6,455.7 548.6,455.1 550.6,454.6 552.6,454.0 554.6,453.5 556.6,453.0 558.6,452.4 560.6,451.9 562.6,451.3 564.6,450.8 566.6,450.2 568.6,449.7 570.6,449.1 572.6,448.6 574.6,448.1 576.6,447.6 578.6,447.2 580.6,446.7 582.6,446.3 584.6,445.8 586.6,445.3 588.6,444.9 590.6,444.4 592.6,443.9 594.6,443.4 596.6,442.9 598.6,442.4 600.6,441.9 602.6,441.4 604.6,440.9 606.6,440.4 608.6,439.9 610.6,439.5 612.6,439.0 614.6,438.5 616.6,438.0 618.6,437.6 620.6,437.1 622.6,436.7 624.6,436.2 626.6,435.7 628.6,435.3 630.6,434.8 632.6,434.4 634.6,433.9 636.6,433.5 638.6,433.0 638.6,433.0" fill="none" stroke="#000000" stroke-width="1.35" stroke-linejoin="round"/>
<polyline clip-path="url(#cli)" points="452.5,571.6 452.8,549.8 453.1,518.4 455.0,510.6 456.6,505.4 458.6,500.2 460.6,498.2 462.6,496.4 464.6,494.8 466.6,493.2 468.6,491.6 470.6,490.0 472.6,488.5 474.6,487.1 476.6,485.8 478.6,484.6 480.6,483.6 482.6,482.7 484.6,481.9 486.6,481.1 488.6,480.4 490.6,479.8 492.6,479.1 494.6,478.5 496.6,477.9 498.6,477.4 500.6,476.8 502.6,476.2 504.6,475.7 506.6,475.1 508.6,474.5 510.6,474.0 512.6,473.4 514.6,472.8 516.6,472.3 518.6,471.7 520.6,471.1 522.6,470.6 524.6,470.0 526.6,469.5 528.6,469.0 530.6,468.5 532.6,468.0 534.6,467.6 536.6,467.1 538.6,466.7 540.6,466.3 542.6,465.9 544.6,465.5 546.6,465.2 548.6,464.8 550.6,464.5 552.6,464.2 554.6,463.9 556.6,463.5 558.6,463.2 560.6,462.9 562.6,462.6 564.6,462.2 566.6,461.8 568.6,461.5 570.6,461.1 572.6,460.7 574.6,460.3 576.6,459.9 578.6,459.5 580.6,459.1 582.6,458.7 584.6,458.3 586.6,457.9 588.6,457.5 590.6,457.1 592.6,456.7 594.6,456.3 596.6,456.0 598.6,455.6 600.6,455.3 602.6,454.9 604.6,454.6 606.6,454.3 608.6,454.0 610.6,453.7 612.6,453.4 614.6,453.1 616.6,452.8 618.6,452.5 620.6,452.2 622.6,451.9 624.6,451.5 626.6,451.2 628.6,450.9 630.6,450.6 632.6,450.3 634.6,449.9 636.6,449.6 638.6,449.3 638.6,449.3" fill="none" stroke="#c98db3" stroke-width="1.35" stroke-linejoin="round"/>
<polyline clip-path="url(#cli)" points="452.5,571.6 452.9,549.8 453.4,527.4 455.6,518.4 456.6,516.1 458.6,511.5 460.6,507.9 462.6,504.7 464.6,501.8 466.6,499.2 468.6,497.5 470.6,496.0 472.6,494.7 474.6,493.5 476.6,492.3 478.6,491.1 480.6,489.8 482.6,488.5 484.6,487.2 486.6,485.9 488.6,484.5 490.6,483.3 492.6,482.1 494.6,481.0 496.6,479.9 498.6,479.0 500.6,478.1 502.6,477.3 504.6,476.5 506.6,475.8 508.6,475.2 510.6,474.5 512.6,473.9 514.6,473.2 516.6,472.5 518.6,471.9 520.6,471.2 522.6,470.5 524.6,469.8 526.6,469.1 528.6,468.4 530.6,467.7 532.6,467.0 534.6,466.3 536.6,465.6 538.6,464.9 540.6,464.2 542.6,463.5 544.6,462.8 546.6,462.2 548.6,461.5 550.6,460.9 552.6,460.3 554.6,459.6 556.6,459.1 558.6,458.5 560.6,457.9 562.6,457.4 564.6,456.8 566.6,456.3 568.6,455.9 570.6,455.4 572.6,454.9 574.6,454.5 576.6,454.1 578.6,453.7 580.6,453.3 582.6,452.9 584.6,452.4 586.6,452.0 588.6,451.5 590.6,451.0 592.6,450.5 594.6,450.0 596.6,449.5 598.6,449.0 600.6,448.6 602.6,448.1 604.6,447.7 606.6,447.3 608.6,446.9 610.6,446.5 612.6,446.2 614.6,445.8 616.6,445.5 618.6,445.1 620.6,444.8 622.6,444.4 624.6,444.1 626.6,443.8 628.6,443.4 630.6,443.1 632.6,442.8 634.6,442.4 636.6,442.1 638.6,441.8 638.6,441.8" fill="none" stroke="#d55e00" stroke-width="1.35" stroke-linejoin="round"/>
<polyline clip-path="url(#cli)" points="452.5,571.6 453.4,549.8 455.0,533.0 456.6,522.6 458.6,517.4 460.6,513.5 462.6,511.4 464.6,509.3 466.6,506.7 468.6,503.5 470.6,501.3 472.6,499.9 474.6,498.7 476.6,497.4 478.6,496.1 480.6,494.8 482.6,493.7 484.6,492.6 486.6,491.6 488.6,490.6 490.6,489.6 492.6,488.6 494.6,487.8 496.6,486.9 498.6,486.2 500.6,485.5 502.6,484.9 504.6,484.4 506.6,483.9 508.6,483.4 510.6,482.9 512.6,482.3 514.6,481.8 516.6,481.2 518.6,480.6 520.6,480.0 522.6,479.3 524.6,478.7 526.6,478.0 528.6,477.3 530.6,476.7 532.6,476.0 534.6,475.3 536.6,474.7 538.6,474.1 540.6,473.5 542.6,472.9 544.6,472.4 546.6,471.9 548.6,471.5 550.6,471.1 552.6,470.7 554.6,470.3 556.6,469.9 558.6,469.5 560.6,469.2 562.6,468.8 564.6,468.3 566.6,467.9 568.6,467.5 570.6,467.0 572.6,466.6 574.6,466.1 576.6,465.7 578.6,465.2 580.6,464.8 582.6,464.4 584.6,463.9 586.6,463.5 588.6,463.0 590.6,462.5 592.6,462.1 594.6,461.6 596.6,461.1 598.6,460.6 600.6,460.1 602.6,459.6 604.6,459.1 606.6,458.5 608.6,458.0 610.6,457.5 612.6,456.9 614.6,456.4 616.6,455.8 618.6,455.3 620.6,454.7 622.6,454.2 624.6,453.6 626.6,453.1 628.6,452.6 630.6,452.1 632.6,451.6 634.6,451.1 636.6,450.6 638.6,450.1 638.6,450.1" fill="none" stroke="#0072b2" stroke-width="1.35" stroke-linejoin="round"/>
<polyline clip-path="url(#cli)" points="452.5,571.6 452.8,549.8 453.9,533.0 455.6,521.8 456.6,519.5 458.6,514.9 460.6,511.9 462.6,509.4 464.6,507.2 466.6,505.1 468.6,502.8 470.6,500.8 472.6,499.3 474.6,498.0 476.6,496.7 478.6,495.6 480.6,494.6 482.6,493.6 484.6,492.7 486.6,491.8 488.6,490.9 490.6,490.0 492.6,489.1 494.6,488.2 496.6,487.2 498.6,486.4 500.6,485.6 502.6,484.9 504.6,484.2 506.6,483.5 508.6,482.9 510.6,482.2 512.6,481.6 514.6,480.9 516.6,480.2 518.6,479.6 520.6,478.9 522.6,478.3 524.6,477.6 526.6,477.0 528.6,476.4 530.6,475.8 532.6,475.1 534.6,474.5 536.6,473.9 538.6,473.3 540.6,472.7 542.6,472.1 544.6,471.6 546.6,471.0 548.6,470.4 550.6,469.8 552.6,469.2 554.6,468.7 556.6,468.2 558.6,467.6 560.6,467.1 562.6,466.7 564.6,466.2 566.6,465.8 568.6,465.4 570.6,464.9 572.6,464.5 574.6,464.1 576.6,463.7 578.6,463.3 580.6,462.9 582.6,462.5 584.6,462.1 586.6,461.7 588.6,461.3 590.6,460.9 592.6,460.5 594.6,460.1 596.6,459.6 598.6,459.2 600.6,458.7 602.6,458.3 604.6,457.8 606.6,457.3 608.6,456.9 610.6,456.4 612.6,456.0 614.6,455.6 616.6,455.2 618.6,454.8 620.6,454.4 622.6,454.0 624.6,453.7 626.6,453.4 628.6,453.0 630.6,452.7 632.6,452.5 634.6,452.2 636.6,451.9 638.6,451.6 638.6,451.6" fill="none" stroke="#f8cc0a" stroke-width="1.35" stroke-linejoin="round"/>
<polyline clip-path="url(#cli)" points="452.5,571.6 452.8,552.0 454.5,545.3 456.2,536.4 456.6,534.9 458.6,529.5 460.6,526.2 462.6,524.1 464.6,522.4 466.6,520.9 468.6,519.4 470.6,518.0 472.6,516.7 474.6,515.5 476.6,514.3 478.6,513.2 480.6,512.1 482.6,511.1 484.6,510.1 486.6,509.0 488.6,507.9 490.6,506.8 492.6,505.7 494.6,504.6 496.6,503.7 498.6,502.8 500.6,502.0 502.6,501.3 504.6,500.7 506.6,500.2 508.6,499.7 510.6,499.2 512.6,498.7 514.6,498.2 516.6,497.7 518.6,497.1 520.6,496.6 522.6,496.0 524.6,495.4 526.6,494.8 528.6,494.2 530.6,493.7 532.6,493.1 534.6,492.5 536.6,491.9 538.6,491.3 540.6,490.8 542.6,490.2 544.6,489.8 546.6,489.3 548.6,488.9 550.6,488.5 552.6,488.2 554.6,487.9 556.6,487.6 558.6,487.3 560.6,486.9 562.6,486.6 564.6,486.2 566.6,485.8 568.6,485.3 570.6,484.8 572.6,484.4 574.6,483.9 576.6,483.4 578.6,482.9 580.6,482.4 582.6,481.9 584.6,481.5 586.6,481.0 588.6,480.6 590.6,480.2 592.6,479.7 594.6,479.3 596.6,478.9 598.6,478.5 600.6,478.1 602.6,477.7 604.6,477.3 606.6,476.9 608.6,476.5 610.6,476.1 612.6,475.7 614.6,475.3 616.6,474.9 618.6,474.5 620.6,474.0 622.6,473.6 624.6,473.1 626.6,472.6 628.6,472.1 630.6,471.6 632.6,471.1 634.6,470.6 636.6,470.0 638.6,469.5 638.6,469.5" fill="none" stroke="#13907a" stroke-width="1.35" stroke-linejoin="round"/>
<rect x="452.6" y="433.0" width="186.39999999999998" height="139.0" fill="none" stroke="#444" stroke-width="1"/>
<line x1="450.6" y1="572.0" x2="452.6" y2="572.0" stroke="#444" stroke-width="1"/>
<text x="449.20000000000005" y="576.5" text-anchor="end" font-family="Liberation Serif" font-size="12.5" fill="#111" stroke="#fff" stroke-width="0.2">4</text>
<line x1="450.6" y1="543.6" x2="452.6" y2="543.6" stroke="#444" stroke-width="1"/>
<text x="449.20000000000005" y="548.1" text-anchor="end" font-family="Liberation Serif" font-size="12.5" fill="#111" stroke="#fff" stroke-width="0.2">6</text>
<line x1="450.6" y1="515.2" x2="452.6" y2="515.2" stroke="#444" stroke-width="1"/>
<text x="449.20000000000005" y="519.7" text-anchor="end" font-family="Liberation Serif" font-size="12.5" fill="#111" stroke="#fff" stroke-width="0.2">8</text>
<line x1="450.6" y1="486.8" x2="452.6" y2="486.8" stroke="#444" stroke-width="1"/>
<text x="449.20000000000005" y="491.3" text-anchor="end" font-family="Liberation Serif" font-size="12.5" fill="#111" stroke="#fff" stroke-width="0.2" textLength="11" lengthAdjust="spacingAndGlyphs">10</text>
<line x1="450.6" y1="458.4" x2="452.6" y2="458.4" stroke="#444" stroke-width="1"/>
<text x="449.20000000000005" y="462.9" text-anchor="end" font-family="Liberation Serif" font-size="12.5" fill="#111" stroke="#fff" stroke-width="0.2" textLength="11" lengthAdjust="spacingAndGlyphs">12</text>
<line x1="489.9" y1="572.0" x2="489.9" y2="574.0" stroke="#444" stroke-width="1"/>
<text x="489.9" y="584.1" text-anchor="end" font-family="Liberation Serif" font-size="12.5" fill="#111" stroke="#fff" stroke-width="0.2" textLength="20.6" lengthAdjust="spacingAndGlyphs">0.02</text>
<line x1="527.2" y1="572.0" x2="527.2" y2="574.0" stroke="#444" stroke-width="1"/>
<text x="527.2" y="584.1" text-anchor="end" font-family="Liberation Serif" font-size="12.5" fill="#111" stroke="#fff" stroke-width="0.2" textLength="20.6" lengthAdjust="spacingAndGlyphs">0.04</text>
<line x1="564.4" y1="572.0" x2="564.4" y2="574.0" stroke="#444" stroke-width="1"/>
<text x="564.4" y="584.1" text-anchor="end" font-family="Liberation Serif" font-size="12.5" fill="#111" stroke="#fff" stroke-width="0.2" textLength="20.6" lengthAdjust="spacingAndGlyphs">0.06</text>
<line x1="601.7" y1="572.0" x2="601.7" y2="574.0" stroke="#444" stroke-width="1"/>
<text x="601.7" y="584.1" text-anchor="end" font-family="Liberation Serif" font-size="12.5" fill="#111" stroke="#fff" stroke-width="0.2" textLength="20.6" lengthAdjust="spacingAndGlyphs">0.08</text>
<line x1="639.0" y1="572.0" x2="639.0" y2="574.0" stroke="#444" stroke-width="1"/>
<text x="639.0" y="584.1" text-anchor="end" font-family="Liberation Serif" font-size="12.5" fill="#111" stroke="#fff" stroke-width="0.2" textLength="20.6" lengthAdjust="spacingAndGlyphs">0.10</text>
<text x="545.8" y="596.5" text-anchor="middle" font-family="Liberation Sans" font-size="10" fill="#000" textLength="31.2" lengthAdjust="spacingAndGlyphs">q-value</text>
<text x="507.75" y="621.6" font-family="Liberation Serif" font-size="15" fill="#111" textLength="14.1" lengthAdjust="spacingAndGlyphs">(i)</text>
<text x="529.1" y="621.6" font-family="Liberation Serif" font-size="15" fill="#111" textLength="45.2" lengthAdjust="spacingAndGlyphs">Yeast-4</text>
</svg></body></html>
